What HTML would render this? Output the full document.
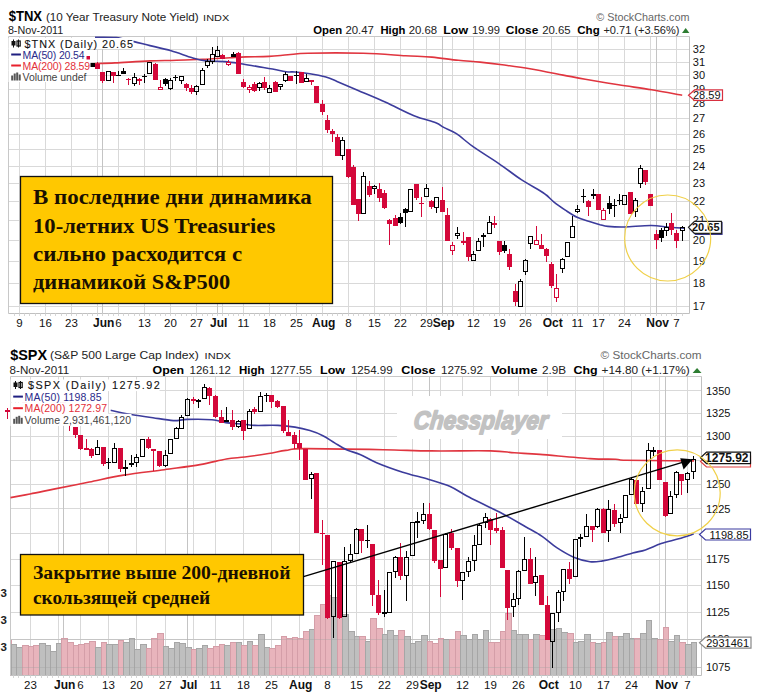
<!DOCTYPE html><html><head><meta charset="utf-8"><style>html,body{margin:0;padding:0;background:#fff;width:758px;height:700px;overflow:hidden}svg{display:block}</style></head><body>
<svg width="758" height="700" viewBox="0 0 758 700">
<rect width="758" height="700" fill="#fff"/>
<line x1="8.5" y1="306.5" x2="689.5" y2="306.5" stroke="#d9d9d9" stroke-width="1"/>
<line x1="8.5" y1="283.5" x2="689.5" y2="283.5" stroke="#d9d9d9" stroke-width="1"/>
<line x1="8.5" y1="261.5" x2="689.5" y2="261.5" stroke="#d9d9d9" stroke-width="1"/>
<line x1="8.5" y1="240.5" x2="689.5" y2="240.5" stroke="#d9d9d9" stroke-width="1"/>
<line x1="8.5" y1="220.5" x2="689.5" y2="220.5" stroke="#d9d9d9" stroke-width="1"/>
<line x1="8.5" y1="201.5" x2="689.5" y2="201.5" stroke="#d9d9d9" stroke-width="1"/>
<line x1="8.5" y1="183.5" x2="689.5" y2="183.5" stroke="#d9d9d9" stroke-width="1"/>
<line x1="8.5" y1="166.5" x2="689.5" y2="166.5" stroke="#d9d9d9" stroke-width="1"/>
<line x1="8.5" y1="149.5" x2="689.5" y2="149.5" stroke="#d9d9d9" stroke-width="1"/>
<line x1="8.5" y1="134.5" x2="689.5" y2="134.5" stroke="#d9d9d9" stroke-width="1"/>
<line x1="8.5" y1="118.5" x2="689.5" y2="118.5" stroke="#d9d9d9" stroke-width="1"/>
<line x1="8.5" y1="103.5" x2="689.5" y2="103.5" stroke="#d9d9d9" stroke-width="1"/>
<line x1="8.5" y1="89.5" x2="689.5" y2="89.5" stroke="#d9d9d9" stroke-width="1"/>
<line x1="8.5" y1="75.5" x2="689.5" y2="75.5" stroke="#d9d9d9" stroke-width="1"/>
<line x1="8.5" y1="62.5" x2="689.5" y2="62.5" stroke="#d9d9d9" stroke-width="1"/>
<line x1="8.5" y1="49.5" x2="689.5" y2="49.5" stroke="#d9d9d9" stroke-width="1"/>
<line x1="19.5" y1="36.5" x2="19.5" y2="313.5" stroke="#d9d9d9" stroke-width="1"/>
<line x1="45.5" y1="36.5" x2="45.5" y2="313.5" stroke="#d9d9d9" stroke-width="1"/>
<line x1="71.5" y1="36.5" x2="71.5" y2="313.5" stroke="#d9d9d9" stroke-width="1"/>
<line x1="97.5" y1="36.5" x2="97.5" y2="313.5" stroke="#d9d9d9" stroke-width="1"/>
<line x1="102.5" y1="36.5" x2="102.5" y2="313.5" stroke="#c4c4c4" stroke-width="1"/>
<line x1="118.5" y1="36.5" x2="118.5" y2="313.5" stroke="#d9d9d9" stroke-width="1"/>
<line x1="144.5" y1="36.5" x2="144.5" y2="313.5" stroke="#d9d9d9" stroke-width="1"/>
<line x1="170.5" y1="36.5" x2="170.5" y2="313.5" stroke="#d9d9d9" stroke-width="1"/>
<line x1="196.5" y1="36.5" x2="196.5" y2="313.5" stroke="#d9d9d9" stroke-width="1"/>
<line x1="217.5" y1="36.5" x2="217.5" y2="313.5" stroke="#c4c4c4" stroke-width="1"/>
<line x1="222.5" y1="36.5" x2="222.5" y2="313.5" stroke="#d9d9d9" stroke-width="1"/>
<line x1="243.5" y1="36.5" x2="243.5" y2="313.5" stroke="#d9d9d9" stroke-width="1"/>
<line x1="269.5" y1="36.5" x2="269.5" y2="313.5" stroke="#d9d9d9" stroke-width="1"/>
<line x1="296.5" y1="36.5" x2="296.5" y2="313.5" stroke="#d9d9d9" stroke-width="1"/>
<line x1="322.5" y1="36.5" x2="322.5" y2="313.5" stroke="#c4c4c4" stroke-width="1"/>
<line x1="322.5" y1="36.5" x2="322.5" y2="313.5" stroke="#d9d9d9" stroke-width="1"/>
<line x1="348.5" y1="36.5" x2="348.5" y2="313.5" stroke="#d9d9d9" stroke-width="1"/>
<line x1="374.5" y1="36.5" x2="374.5" y2="313.5" stroke="#d9d9d9" stroke-width="1"/>
<line x1="400.5" y1="36.5" x2="400.5" y2="313.5" stroke="#d9d9d9" stroke-width="1"/>
<line x1="426.5" y1="36.5" x2="426.5" y2="313.5" stroke="#d9d9d9" stroke-width="1"/>
<line x1="442.5" y1="36.5" x2="442.5" y2="313.5" stroke="#c4c4c4" stroke-width="1"/>
<line x1="452.5" y1="36.5" x2="452.5" y2="313.5" stroke="#d9d9d9" stroke-width="1"/>
<line x1="473.5" y1="36.5" x2="473.5" y2="313.5" stroke="#d9d9d9" stroke-width="1"/>
<line x1="499.5" y1="36.5" x2="499.5" y2="313.5" stroke="#d9d9d9" stroke-width="1"/>
<line x1="525.5" y1="36.5" x2="525.5" y2="313.5" stroke="#d9d9d9" stroke-width="1"/>
<line x1="551.5" y1="36.5" x2="551.5" y2="313.5" stroke="#c4c4c4" stroke-width="1"/>
<line x1="551.5" y1="36.5" x2="551.5" y2="313.5" stroke="#d9d9d9" stroke-width="1"/>
<line x1="577.5" y1="36.5" x2="577.5" y2="313.5" stroke="#d9d9d9" stroke-width="1"/>
<line x1="598.5" y1="36.5" x2="598.5" y2="313.5" stroke="#d9d9d9" stroke-width="1"/>
<line x1="624.5" y1="36.5" x2="624.5" y2="313.5" stroke="#d9d9d9" stroke-width="1"/>
<line x1="650.5" y1="36.5" x2="650.5" y2="313.5" stroke="#d9d9d9" stroke-width="1"/>
<line x1="656.5" y1="36.5" x2="656.5" y2="313.5" stroke="#c4c4c4" stroke-width="1"/>
<line x1="676.5" y1="36.5" x2="676.5" y2="313.5" stroke="#d9d9d9" stroke-width="1"/>
<path d="M8.5 313.5V36.5H689.5" fill="none" stroke="#c8c8c8" stroke-width="1"/>
<path d="M689.5 36.5V313.5H8.5" fill="none" stroke="#c0c0c0" stroke-width="1"/>
<path d="M14.5 313.5v2.5M19.5 313.5v2.5M24.5 313.5v2.5M29.5 313.5v2.5M35.5 313.5v2.5M40.5 313.5v2.5M45.5 313.5v2.5M50.5 313.5v2.5M55.5 313.5v2.5M61.5 313.5v2.5M66.5 313.5v2.5M71.5 313.5v2.5M76.5 313.5v2.5M82.5 313.5v2.5M87.5 313.5v2.5M92.5 313.5v2.5M97.5 313.5v2.5M102.5 313.5v2.5M108.5 313.5v2.5M113.5 313.5v2.5M118.5 313.5v2.5M123.5 313.5v2.5M128.5 313.5v2.5M134.5 313.5v2.5M139.5 313.5v2.5M144.5 313.5v2.5M149.5 313.5v2.5M155.5 313.5v2.5M160.5 313.5v2.5M165.5 313.5v2.5M170.5 313.5v2.5M175.5 313.5v2.5M181.5 313.5v2.5M186.5 313.5v2.5M191.5 313.5v2.5M196.5 313.5v2.5M202.5 313.5v2.5M207.5 313.5v2.5M212.5 313.5v2.5M217.5 313.5v2.5M222.5 313.5v2.5M228.5 313.5v2.5M233.5 313.5v2.5M238.5 313.5v2.5M243.5 313.5v2.5M249.5 313.5v2.5M254.5 313.5v2.5M259.5 313.5v2.5M264.5 313.5v2.5M269.5 313.5v2.5M275.5 313.5v2.5M280.5 313.5v2.5M285.5 313.5v2.5M290.5 313.5v2.5M296.5 313.5v2.5M301.5 313.5v2.5M306.5 313.5v2.5M311.5 313.5v2.5M316.5 313.5v2.5M322.5 313.5v2.5M327.5 313.5v2.5M332.5 313.5v2.5M337.5 313.5v2.5M342.5 313.5v2.5M348.5 313.5v2.5M353.5 313.5v2.5M358.5 313.5v2.5M363.5 313.5v2.5M369.5 313.5v2.5M374.5 313.5v2.5M379.5 313.5v2.5M384.5 313.5v2.5M389.5 313.5v2.5M395.5 313.5v2.5M400.5 313.5v2.5M405.5 313.5v2.5M410.5 313.5v2.5M416.5 313.5v2.5M421.5 313.5v2.5M426.5 313.5v2.5M431.5 313.5v2.5M436.5 313.5v2.5M442.5 313.5v2.5M447.5 313.5v2.5M452.5 313.5v2.5M457.5 313.5v2.5M463.5 313.5v2.5M468.5 313.5v2.5M473.5 313.5v2.5M478.5 313.5v2.5M483.5 313.5v2.5M489.5 313.5v2.5M494.5 313.5v2.5M499.5 313.5v2.5M504.5 313.5v2.5M509.5 313.5v2.5M515.5 313.5v2.5M520.5 313.5v2.5M525.5 313.5v2.5M530.5 313.5v2.5M536.5 313.5v2.5M541.5 313.5v2.5M546.5 313.5v2.5M551.5 313.5v2.5M556.5 313.5v2.5M562.5 313.5v2.5M567.5 313.5v2.5M572.5 313.5v2.5M577.5 313.5v2.5M583.5 313.5v2.5M588.5 313.5v2.5M593.5 313.5v2.5M598.5 313.5v2.5M603.5 313.5v2.5M609.5 313.5v2.5M614.5 313.5v2.5M619.5 313.5v2.5M624.5 313.5v2.5M630.5 313.5v2.5M635.5 313.5v2.5M640.5 313.5v2.5M645.5 313.5v2.5M650.5 313.5v2.5M656.5 313.5v2.5M661.5 313.5v2.5M666.5 313.5v2.5M671.5 313.5v2.5M676.5 313.5v2.5M682.5 313.5v2.5" stroke="#d6d6d6" stroke-width="1"/>
<path d="M91.0 63.8 C95.0 63.6 105.2 63.4 115.0 62.9 C124.8 62.4 139.8 61.3 150.0 60.9 C160.2 60.5 167.6 60.6 176.4 60.3 C185.2 60.0 193.9 59.7 202.8 59.3 C211.7 58.9 222.8 58.1 230.0 57.7 C237.2 57.3 239.5 57.1 246.0 56.9 C252.5 56.7 262.0 56.8 269.0 56.4 C276.0 56.0 281.5 55.3 288.0 54.8 C294.5 54.3 295.3 53.5 307.9 53.2 C320.4 52.9 347.0 52.8 363.3 53.2 C379.6 53.6 394.1 55.1 405.5 55.8 C416.9 56.4 423.1 56.4 431.9 57.1 C440.7 57.9 450.3 59.5 458.3 60.3 C466.3 61.1 472.7 61.4 480.0 62.1 C487.3 62.9 493.9 63.7 502.2 64.8 C510.5 65.9 519.8 67.0 529.9 68.7 C540.0 70.4 553.9 73.3 563.1 75.1 C572.3 76.8 576.1 77.6 585.3 79.2 C594.5 80.8 607.4 83.0 618.5 84.8 C629.6 86.6 641.1 88.0 651.7 89.8 C662.3 91.5 677.1 94.4 682.2 95.3" fill="none" stroke="#e0353f" stroke-width="1.6" stroke-linejoin="round"/>
<path d="M95.0 37.2 C98.5 37.3 109.5 36.9 116.0 37.6 C122.5 38.3 128.3 40.3 134.0 41.6 C139.7 42.9 143.8 44.1 150.0 45.6 C156.2 47.1 164.1 48.8 171.1 50.8 C178.1 52.8 186.4 56.0 192.2 57.7 C198.0 59.4 200.4 60.2 205.9 60.9 C211.4 61.5 219.2 61.1 225.0 61.6 C230.8 62.1 235.5 62.9 240.8 63.7 C246.1 64.5 251.4 65.5 256.7 66.4 C262.0 67.3 267.6 68.1 272.5 69.0 C277.4 69.9 282.4 71.2 286.2 71.7 C289.9 72.2 291.1 71.7 295.0 72.0 C298.9 72.3 304.8 72.9 309.9 73.7 C315.0 74.5 321.4 75.8 325.9 77.1 C330.4 78.4 331.8 79.2 337.0 81.4 C342.2 83.6 348.9 86.5 357.0 90.0 C365.1 93.5 376.2 98.0 385.7 102.3 C395.2 106.6 405.6 112.3 414.0 115.7 C422.4 119.1 430.9 120.8 435.8 122.7 C440.8 124.7 440.3 125.6 443.7 127.4 C447.1 129.2 451.4 130.4 456.4 133.7 C461.4 137.0 466.7 142.2 473.8 147.2 C480.9 152.2 491.3 158.4 499.2 163.8 C507.1 169.2 514.5 175.2 521.3 179.7 C528.1 184.2 535.8 188.1 540.0 190.7 C544.2 193.2 543.9 193.1 546.3 195.0 C548.7 196.9 551.1 199.8 554.3 202.4 C557.5 205.0 561.9 207.9 565.7 210.4 C569.5 212.9 573.3 215.5 577.1 217.3 C580.9 219.1 584.8 220.1 588.6 221.3 C592.4 222.5 596.8 223.8 600.0 224.7 C603.2 225.5 603.7 226.0 607.9 226.4 C612.1 226.8 617.8 227.2 625.0 227.0 C632.2 226.8 643.9 225.4 651.3 225.5 C658.7 225.6 663.7 226.9 669.3 227.3 C674.9 227.7 682.1 228.0 684.7 228.1" fill="none" stroke="#3c3c9c" stroke-width="1.6" stroke-linejoin="round"/>
<rect x="85.0" y="56" width="5" height="5" fill="#d4083a"/>
<rect x="90.0" y="63" width="5" height="4" fill="#000"/>
<rect x="97.0" y="62" width="1" height="2" fill="#d4083a"/>
<rect x="95.0" y="64" width="5" height="5" fill="#d4083a"/>
<rect x="102.0" y="81" width="1" height="2" fill="#d4083a"/>
<rect x="100.0" y="72" width="5" height="9" fill="#d4083a"/>
<rect x="106.5" y="71.5" width="4" height="9" fill="none" stroke="#000" stroke-width="1"/>
<rect x="113.0" y="76" width="1" height="7" fill="#d4083a"/>
<rect x="111.0" y="72" width="5" height="4" fill="#d4083a"/>
<rect x="118.0" y="71" width="1" height="4" fill="#000"/>
<rect x="116.0" y="75" width="5" height="1" fill="#000"/>
<rect x="123.0" y="68" width="1" height="3" fill="#000"/>
<rect x="121.0" y="71" width="5" height="3" fill="#000"/>
<rect x="128.0" y="78" width="1" height="1" fill="#d4083a"/>
<rect x="128.0" y="80" width="1" height="5" fill="#d4083a"/>
<rect x="126.0" y="79" width="5" height="1" fill="#d4083a"/>
<rect x="134.0" y="73" width="1" height="4" fill="#000"/>
<rect x="134.0" y="84" width="1" height="2" fill="#000"/>
<rect x="132.5" y="77.5" width="4" height="6" fill="none" stroke="#000" stroke-width="1"/>
<rect x="139.0" y="78" width="1" height="1" fill="#d4083a"/>
<rect x="139.0" y="81" width="1" height="4" fill="#d4083a"/>
<rect x="137.0" y="79" width="5" height="2" fill="#d4083a"/>
<rect x="144.0" y="74" width="1" height="2" fill="#000"/>
<rect x="144.0" y="77" width="1" height="6" fill="#000"/>
<rect x="142.0" y="76" width="5" height="1" fill="#000"/>
<rect x="147.5" y="62.5" width="4" height="11" fill="none" stroke="#000" stroke-width="1"/>
<rect x="155.0" y="63" width="1" height="1" fill="#d4083a"/>
<rect x="153.0" y="64" width="5" height="16" fill="#d4083a"/>
<rect x="160.0" y="80" width="1" height="7" fill="#d4083a"/>
<rect x="158.5" y="87.5" width="4" height="2" fill="none" stroke="#d4083a" stroke-width="1"/>
<rect x="165.0" y="78" width="1" height="1" fill="#000"/>
<rect x="165.0" y="84" width="1" height="2" fill="#000"/>
<rect x="163.0" y="79" width="5" height="5" fill="#000"/>
<rect x="170.0" y="78" width="1" height="2" fill="#000"/>
<rect x="170.0" y="89" width="1" height="1" fill="#000"/>
<rect x="168.5" y="80.5" width="4" height="8" fill="none" stroke="#000" stroke-width="1"/>
<rect x="175.0" y="75" width="1" height="2" fill="#000"/>
<rect x="175.0" y="78" width="1" height="3" fill="#000"/>
<rect x="173.0" y="77" width="5" height="1" fill="#000"/>
<rect x="181.0" y="81" width="1" height="3" fill="#000"/>
<rect x="179.5" y="76.5" width="4" height="4" fill="none" stroke="#000" stroke-width="1"/>
<rect x="186.0" y="83" width="1" height="1" fill="#d4083a"/>
<rect x="186.0" y="88" width="1" height="3" fill="#d4083a"/>
<rect x="184.0" y="84" width="5" height="4" fill="#d4083a"/>
<rect x="191.0" y="85" width="1" height="3" fill="#d4083a"/>
<rect x="191.0" y="92" width="1" height="2" fill="#d4083a"/>
<rect x="189.0" y="88" width="5" height="4" fill="#d4083a"/>
<rect x="196.0" y="85" width="1" height="1" fill="#000"/>
<rect x="196.0" y="92" width="1" height="3" fill="#000"/>
<rect x="194.5" y="86.5" width="4" height="5" fill="none" stroke="#000" stroke-width="1"/>
<rect x="202.0" y="68" width="1" height="2" fill="#000"/>
<rect x="200.5" y="70.5" width="4" height="14" fill="none" stroke="#000" stroke-width="1"/>
<rect x="207.0" y="59" width="1" height="2" fill="#000"/>
<rect x="207.0" y="66" width="1" height="2" fill="#000"/>
<rect x="205.5" y="61.5" width="4" height="4" fill="none" stroke="#000" stroke-width="1"/>
<rect x="212.0" y="47" width="1" height="7" fill="#000"/>
<rect x="212.0" y="62" width="1" height="2" fill="#000"/>
<rect x="210.5" y="54.5" width="4" height="7" fill="none" stroke="#000" stroke-width="1"/>
<rect x="217.0" y="46" width="1" height="4" fill="#000"/>
<rect x="215.5" y="50.5" width="4" height="6" fill="none" stroke="#000" stroke-width="1"/>
<rect x="222.0" y="54" width="1" height="1" fill="#d4083a"/>
<rect x="220.0" y="55" width="5" height="4" fill="#d4083a"/>
<rect x="228.0" y="60" width="1" height="2" fill="#d4083a"/>
<rect x="228.0" y="65" width="1" height="1" fill="#d4083a"/>
<rect x="226.5" y="62.5" width="4" height="2" fill="none" stroke="#d4083a" stroke-width="1"/>
<rect x="233.0" y="52" width="1" height="2" fill="#000"/>
<rect x="231.0" y="54" width="5" height="3" fill="#000"/>
<rect x="238.0" y="52" width="1" height="1" fill="#d4083a"/>
<rect x="236.0" y="53" width="5" height="21" fill="#d4083a"/>
<rect x="243.0" y="79" width="1" height="3" fill="#d4083a"/>
<rect x="243.0" y="87" width="1" height="1" fill="#d4083a"/>
<rect x="241.0" y="82" width="5" height="5" fill="#d4083a"/>
<rect x="249.0" y="85" width="1" height="2" fill="#d4083a"/>
<rect x="249.0" y="90" width="1" height="3" fill="#d4083a"/>
<rect x="247.5" y="87.5" width="4" height="2" fill="none" stroke="#d4083a" stroke-width="1"/>
<rect x="254.0" y="82" width="1" height="2" fill="#d4083a"/>
<rect x="254.0" y="91" width="1" height="1" fill="#d4083a"/>
<rect x="252.0" y="84" width="5" height="7" fill="#d4083a"/>
<rect x="259.0" y="82" width="1" height="1" fill="#000"/>
<rect x="259.0" y="88" width="1" height="3" fill="#000"/>
<rect x="257.5" y="83.5" width="4" height="4" fill="none" stroke="#000" stroke-width="1"/>
<rect x="264.0" y="77" width="1" height="5" fill="#d4083a"/>
<rect x="264.0" y="88" width="1" height="2" fill="#d4083a"/>
<rect x="262.0" y="82" width="5" height="6" fill="#d4083a"/>
<rect x="269.0" y="85" width="1" height="3" fill="#000"/>
<rect x="267.5" y="88.5" width="4" height="4" fill="none" stroke="#000" stroke-width="1"/>
<rect x="275.0" y="81" width="1" height="1" fill="#d4083a"/>
<rect x="273.0" y="82" width="5" height="10" fill="#d4083a"/>
<rect x="280.0" y="87" width="1" height="3" fill="#000"/>
<rect x="278.5" y="84.5" width="4" height="2" fill="none" stroke="#000" stroke-width="1"/>
<rect x="285.0" y="72" width="1" height="2" fill="#000"/>
<rect x="285.0" y="81" width="1" height="1" fill="#000"/>
<rect x="283.5" y="74.5" width="4" height="6" fill="none" stroke="#000" stroke-width="1"/>
<rect x="288.0" y="76" width="5" height="5" fill="#d4083a"/>
<rect x="296.0" y="71" width="1" height="4" fill="#000"/>
<rect x="296.0" y="76" width="1" height="8" fill="#000"/>
<rect x="294.0" y="75" width="5" height="1" fill="#000"/>
<rect x="299.0" y="72" width="5" height="11" fill="#d4083a"/>
<rect x="306.0" y="74" width="1" height="4" fill="#000"/>
<rect x="304.5" y="78.5" width="4" height="3" fill="none" stroke="#000" stroke-width="1"/>
<rect x="311.0" y="82" width="1" height="3" fill="#d4083a"/>
<rect x="309.0" y="80" width="5" height="2" fill="#d4083a"/>
<rect x="314.0" y="86" width="5" height="17" fill="#d4083a"/>
<rect x="322.0" y="100" width="1" height="4" fill="#d4083a"/>
<rect x="322.0" y="112" width="1" height="3" fill="#d4083a"/>
<rect x="320.0" y="104" width="5" height="8" fill="#d4083a"/>
<rect x="327.0" y="115" width="1" height="5" fill="#d4083a"/>
<rect x="327.0" y="130" width="1" height="3" fill="#d4083a"/>
<rect x="325.0" y="120" width="5" height="10" fill="#d4083a"/>
<rect x="332.0" y="129" width="1" height="2" fill="#d4083a"/>
<rect x="332.0" y="134" width="1" height="8" fill="#d4083a"/>
<rect x="330.0" y="131" width="5" height="3" fill="#d4083a"/>
<rect x="337.0" y="134" width="1" height="3" fill="#d4083a"/>
<rect x="335.0" y="137" width="5" height="19" fill="#d4083a"/>
<rect x="342.0" y="137" width="1" height="3" fill="#000"/>
<rect x="342.0" y="156" width="1" height="4" fill="#000"/>
<rect x="340.5" y="140.5" width="4" height="15" fill="none" stroke="#000" stroke-width="1"/>
<rect x="348.0" y="177" width="1" height="1" fill="#d4083a"/>
<rect x="346.0" y="149" width="5" height="28" fill="#d4083a"/>
<rect x="353.0" y="165" width="1" height="2" fill="#d4083a"/>
<rect x="351.0" y="167" width="5" height="38" fill="#d4083a"/>
<rect x="358.0" y="214" width="1" height="7" fill="#d4083a"/>
<rect x="356.0" y="199" width="5" height="15" fill="#d4083a"/>
<rect x="363.0" y="172" width="1" height="4" fill="#000"/>
<rect x="361.5" y="176.5" width="4" height="37" fill="none" stroke="#000" stroke-width="1"/>
<rect x="369.0" y="181" width="1" height="5" fill="#d4083a"/>
<rect x="369.0" y="195" width="1" height="2" fill="#d4083a"/>
<rect x="367.0" y="186" width="5" height="9" fill="#d4083a"/>
<rect x="374.0" y="185" width="1" height="1" fill="#000"/>
<rect x="374.0" y="189" width="1" height="5" fill="#000"/>
<rect x="372.5" y="186.5" width="4" height="2" fill="none" stroke="#000" stroke-width="1"/>
<rect x="379.0" y="183" width="1" height="6" fill="#d4083a"/>
<rect x="379.0" y="198" width="1" height="4" fill="#d4083a"/>
<rect x="377.0" y="189" width="5" height="9" fill="#d4083a"/>
<rect x="384.0" y="190" width="1" height="3" fill="#d4083a"/>
<rect x="384.0" y="208" width="1" height="1" fill="#d4083a"/>
<rect x="382.0" y="193" width="5" height="15" fill="#d4083a"/>
<rect x="389.0" y="219" width="1" height="1" fill="#d4083a"/>
<rect x="389.0" y="224" width="1" height="21" fill="#d4083a"/>
<rect x="387.0" y="220" width="5" height="4" fill="#d4083a"/>
<rect x="395.0" y="215" width="1" height="3" fill="#d4083a"/>
<rect x="393.0" y="218" width="5" height="8" fill="#d4083a"/>
<rect x="400.0" y="213" width="1" height="4" fill="#000"/>
<rect x="400.0" y="223" width="1" height="1" fill="#000"/>
<rect x="398.0" y="217" width="5" height="6" fill="#000"/>
<rect x="405.0" y="208" width="1" height="1" fill="#000"/>
<rect x="405.0" y="213" width="1" height="14" fill="#000"/>
<rect x="403.0" y="209" width="5" height="4" fill="#000"/>
<rect x="408.5" y="189.5" width="4" height="22" fill="none" stroke="#000" stroke-width="1"/>
<rect x="416.0" y="198" width="1" height="2" fill="#d4083a"/>
<rect x="414.0" y="184" width="5" height="14" fill="#d4083a"/>
<rect x="421.0" y="197" width="1" height="6" fill="#d4083a"/>
<rect x="421.0" y="204" width="1" height="13" fill="#d4083a"/>
<rect x="419.0" y="203" width="5" height="1" fill="#d4083a"/>
<rect x="426.0" y="184" width="1" height="4" fill="#000"/>
<rect x="424.5" y="188.5" width="4" height="8" fill="none" stroke="#000" stroke-width="1"/>
<rect x="431.0" y="200" width="1" height="1" fill="#d4083a"/>
<rect x="431.0" y="207" width="1" height="2" fill="#d4083a"/>
<rect x="429.0" y="201" width="5" height="6" fill="#d4083a"/>
<rect x="436.0" y="208" width="1" height="5" fill="#000"/>
<rect x="434.5" y="197.5" width="4" height="10" fill="none" stroke="#000" stroke-width="1"/>
<rect x="442.0" y="187" width="1" height="13" fill="#d4083a"/>
<rect x="440.0" y="200" width="5" height="12" fill="#d4083a"/>
<rect x="447.0" y="208" width="1" height="7" fill="#d4083a"/>
<rect x="445.0" y="215" width="5" height="26" fill="#d4083a"/>
<rect x="452.0" y="242" width="1" height="3" fill="#d4083a"/>
<rect x="452.0" y="251" width="1" height="4" fill="#d4083a"/>
<rect x="450.5" y="245.5" width="4" height="5" fill="none" stroke="#d4083a" stroke-width="1"/>
<rect x="457.0" y="227" width="1" height="6" fill="#000"/>
<rect x="457.0" y="236" width="1" height="3" fill="#000"/>
<rect x="455.5" y="233.5" width="4" height="2" fill="none" stroke="#000" stroke-width="1"/>
<rect x="463.0" y="232" width="1" height="9" fill="#d4083a"/>
<rect x="463.0" y="243" width="1" height="2" fill="#d4083a"/>
<rect x="461.0" y="241" width="5" height="2" fill="#d4083a"/>
<rect x="468.0" y="257" width="1" height="4" fill="#d4083a"/>
<rect x="466.0" y="237" width="5" height="20" fill="#d4083a"/>
<rect x="473.0" y="251" width="1" height="3" fill="#000"/>
<rect x="471.5" y="254.5" width="4" height="6" fill="none" stroke="#000" stroke-width="1"/>
<rect x="478.0" y="238" width="1" height="3" fill="#000"/>
<rect x="476.5" y="241.5" width="4" height="9" fill="none" stroke="#000" stroke-width="1"/>
<rect x="483.0" y="233" width="1" height="2" fill="#000"/>
<rect x="483.0" y="237" width="1" height="10" fill="#000"/>
<rect x="481.0" y="235" width="5" height="2" fill="#000"/>
<rect x="489.0" y="216" width="1" height="6" fill="#000"/>
<rect x="487.5" y="222.5" width="4" height="11" fill="none" stroke="#000" stroke-width="1"/>
<rect x="494.0" y="216" width="1" height="7" fill="#d4083a"/>
<rect x="494.0" y="225" width="1" height="3" fill="#d4083a"/>
<rect x="492.0" y="223" width="5" height="2" fill="#d4083a"/>
<rect x="499.0" y="252" width="1" height="3" fill="#d4083a"/>
<rect x="497.0" y="241" width="5" height="11" fill="#d4083a"/>
<rect x="504.0" y="241" width="1" height="4" fill="#000"/>
<rect x="504.0" y="251" width="1" height="2" fill="#000"/>
<rect x="502.0" y="245" width="5" height="6" fill="#000"/>
<rect x="509.0" y="249" width="1" height="5" fill="#d4083a"/>
<rect x="509.0" y="267" width="1" height="3" fill="#d4083a"/>
<rect x="507.0" y="254" width="5" height="13" fill="#d4083a"/>
<rect x="515.0" y="284" width="1" height="7" fill="#d4083a"/>
<rect x="515.0" y="302" width="1" height="4" fill="#d4083a"/>
<rect x="513.0" y="291" width="5" height="11" fill="#d4083a"/>
<rect x="520.0" y="279" width="1" height="2" fill="#000"/>
<rect x="518.5" y="281.5" width="4" height="25" fill="none" stroke="#000" stroke-width="1"/>
<rect x="525.0" y="259" width="1" height="1" fill="#000"/>
<rect x="525.0" y="272" width="1" height="3" fill="#000"/>
<rect x="523.5" y="260.5" width="4" height="11" fill="none" stroke="#000" stroke-width="1"/>
<rect x="530.0" y="244" width="1" height="5" fill="#000"/>
<rect x="528.5" y="236.5" width="4" height="7" fill="none" stroke="#000" stroke-width="1"/>
<rect x="536.0" y="226" width="1" height="14" fill="#d4083a"/>
<rect x="534.5" y="240.5" width="4" height="4" fill="none" stroke="#d4083a" stroke-width="1"/>
<rect x="541.0" y="234" width="1" height="11" fill="#d4083a"/>
<rect x="539.0" y="245" width="5" height="4" fill="#d4083a"/>
<rect x="546.0" y="248" width="1" height="1" fill="#d4083a"/>
<rect x="546.0" y="256" width="1" height="6" fill="#d4083a"/>
<rect x="544.0" y="249" width="5" height="7" fill="#d4083a"/>
<rect x="551.0" y="262" width="1" height="2" fill="#d4083a"/>
<rect x="551.0" y="286" width="1" height="2" fill="#d4083a"/>
<rect x="549.0" y="264" width="5" height="22" fill="#d4083a"/>
<rect x="556.0" y="274" width="1" height="14" fill="#d4083a"/>
<rect x="556.0" y="298" width="1" height="4" fill="#d4083a"/>
<rect x="554.5" y="288.5" width="4" height="9" fill="none" stroke="#d4083a" stroke-width="1"/>
<rect x="562.0" y="258" width="1" height="1" fill="#000"/>
<rect x="562.0" y="269" width="1" height="4" fill="#000"/>
<rect x="560.5" y="259.5" width="4" height="9" fill="none" stroke="#000" stroke-width="1"/>
<rect x="565.5" y="242.5" width="4" height="14" fill="none" stroke="#000" stroke-width="1"/>
<rect x="572.0" y="216" width="1" height="10" fill="#000"/>
<rect x="570.5" y="226.5" width="4" height="11" fill="none" stroke="#000" stroke-width="1"/>
<rect x="577.0" y="205" width="1" height="4" fill="#000"/>
<rect x="577.0" y="212" width="1" height="1" fill="#000"/>
<rect x="575.5" y="209.5" width="4" height="2" fill="none" stroke="#000" stroke-width="1"/>
<rect x="583.0" y="189" width="1" height="7" fill="#000"/>
<rect x="583.0" y="197" width="1" height="6" fill="#000"/>
<rect x="581.0" y="196" width="5" height="1" fill="#000"/>
<rect x="588.0" y="200" width="1" height="1" fill="#d4083a"/>
<rect x="588.0" y="207" width="1" height="9" fill="#d4083a"/>
<rect x="586.0" y="201" width="5" height="6" fill="#d4083a"/>
<rect x="593.0" y="189" width="1" height="5" fill="#000"/>
<rect x="593.0" y="196" width="1" height="3" fill="#000"/>
<rect x="591.0" y="194" width="5" height="2" fill="#000"/>
<rect x="596.0" y="194" width="5" height="16" fill="#d4083a"/>
<rect x="603.0" y="208" width="1" height="2" fill="#d4083a"/>
<rect x="601.5" y="210.5" width="4" height="9" fill="none" stroke="#d4083a" stroke-width="1"/>
<rect x="609.0" y="196" width="1" height="7" fill="#000"/>
<rect x="609.0" y="209" width="1" height="5" fill="#000"/>
<rect x="607.0" y="203" width="5" height="6" fill="#000"/>
<rect x="614.0" y="199" width="1" height="6" fill="#000"/>
<rect x="614.0" y="206" width="1" height="11" fill="#000"/>
<rect x="612.0" y="205" width="5" height="1" fill="#000"/>
<rect x="619.0" y="194" width="1" height="6" fill="#000"/>
<rect x="619.0" y="201" width="1" height="4" fill="#000"/>
<rect x="617.0" y="200" width="5" height="1" fill="#000"/>
<rect x="622.5" y="195.5" width="4" height="9" fill="none" stroke="#000" stroke-width="1"/>
<rect x="628.0" y="192" width="5" height="22" fill="#d4083a"/>
<rect x="635.0" y="198" width="1" height="2" fill="#000"/>
<rect x="635.0" y="212" width="1" height="5" fill="#000"/>
<rect x="633.5" y="200.5" width="4" height="11" fill="none" stroke="#000" stroke-width="1"/>
<rect x="640.0" y="165" width="1" height="3" fill="#000"/>
<rect x="640.0" y="184" width="1" height="4" fill="#000"/>
<rect x="638.5" y="168.5" width="4" height="15" fill="none" stroke="#000" stroke-width="1"/>
<rect x="645.0" y="182" width="1" height="3" fill="#d4083a"/>
<rect x="643.0" y="170" width="5" height="12" fill="#d4083a"/>
<rect x="648.0" y="194" width="5" height="12" fill="#d4083a"/>
<rect x="656.0" y="230" width="1" height="4" fill="#d4083a"/>
<rect x="656.0" y="240" width="1" height="9" fill="#d4083a"/>
<rect x="654.0" y="234" width="5" height="6" fill="#d4083a"/>
<rect x="661.0" y="228" width="1" height="2" fill="#000"/>
<rect x="661.0" y="238" width="1" height="4" fill="#000"/>
<rect x="659.0" y="230" width="5" height="8" fill="#000"/>
<rect x="666.0" y="223" width="1" height="4" fill="#000"/>
<rect x="666.0" y="231" width="1" height="5" fill="#000"/>
<rect x="664.5" y="227.5" width="4" height="3" fill="none" stroke="#000" stroke-width="1"/>
<rect x="671.0" y="213" width="1" height="10" fill="#d4083a"/>
<rect x="671.0" y="230" width="1" height="5" fill="#d4083a"/>
<rect x="669.0" y="223" width="5" height="7" fill="#d4083a"/>
<rect x="676.0" y="230" width="1" height="3" fill="#d4083a"/>
<rect x="676.0" y="241" width="1" height="7" fill="#d4083a"/>
<rect x="674.0" y="233" width="5" height="8" fill="#d4083a"/>
<rect x="682.0" y="226" width="1" height="1" fill="#000"/>
<rect x="682.0" y="231" width="1" height="10" fill="#000"/>
<rect x="680.5" y="227.5" width="4" height="3" fill="none" stroke="#000" stroke-width="1"/>
<line x1="10.5" y1="667.5" x2="701.5" y2="667.5" stroke="#d9d9d9" stroke-width="1"/>
<line x1="10.5" y1="639.5" x2="701.5" y2="639.5" stroke="#d9d9d9" stroke-width="1"/>
<line x1="10.5" y1="612.5" x2="701.5" y2="612.5" stroke="#d9d9d9" stroke-width="1"/>
<line x1="10.5" y1="585.5" x2="701.5" y2="585.5" stroke="#d9d9d9" stroke-width="1"/>
<line x1="10.5" y1="559.5" x2="701.5" y2="559.5" stroke="#d9d9d9" stroke-width="1"/>
<line x1="10.5" y1="533.5" x2="701.5" y2="533.5" stroke="#d9d9d9" stroke-width="1"/>
<line x1="10.5" y1="508.5" x2="701.5" y2="508.5" stroke="#d9d9d9" stroke-width="1"/>
<line x1="10.5" y1="484.5" x2="701.5" y2="484.5" stroke="#d9d9d9" stroke-width="1"/>
<line x1="10.5" y1="460.5" x2="701.5" y2="460.5" stroke="#d9d9d9" stroke-width="1"/>
<line x1="10.5" y1="436.5" x2="701.5" y2="436.5" stroke="#d9d9d9" stroke-width="1"/>
<line x1="10.5" y1="413.5" x2="701.5" y2="413.5" stroke="#d9d9d9" stroke-width="1"/>
<line x1="10.5" y1="390.5" x2="701.5" y2="390.5" stroke="#d9d9d9" stroke-width="1"/>
<line x1="30.5" y1="376.5" x2="30.5" y2="675.5" stroke="#d9d9d9" stroke-width="1"/>
<line x1="58.5" y1="376.5" x2="58.5" y2="675.5" stroke="#d9d9d9" stroke-width="1"/>
<line x1="63.5" y1="376.5" x2="63.5" y2="675.5" stroke="#c4c4c4" stroke-width="1"/>
<line x1="80.5" y1="376.5" x2="80.5" y2="675.5" stroke="#d9d9d9" stroke-width="1"/>
<line x1="108.5" y1="376.5" x2="108.5" y2="675.5" stroke="#d9d9d9" stroke-width="1"/>
<line x1="136.5" y1="376.5" x2="136.5" y2="675.5" stroke="#d9d9d9" stroke-width="1"/>
<line x1="165.5" y1="376.5" x2="165.5" y2="675.5" stroke="#d9d9d9" stroke-width="1"/>
<line x1="187.5" y1="376.5" x2="187.5" y2="675.5" stroke="#c4c4c4" stroke-width="1"/>
<line x1="193.5" y1="376.5" x2="193.5" y2="675.5" stroke="#d9d9d9" stroke-width="1"/>
<line x1="215.5" y1="376.5" x2="215.5" y2="675.5" stroke="#d9d9d9" stroke-width="1"/>
<line x1="243.5" y1="376.5" x2="243.5" y2="675.5" stroke="#d9d9d9" stroke-width="1"/>
<line x1="271.5" y1="376.5" x2="271.5" y2="675.5" stroke="#d9d9d9" stroke-width="1"/>
<line x1="299.5" y1="376.5" x2="299.5" y2="675.5" stroke="#c4c4c4" stroke-width="1"/>
<line x1="299.5" y1="376.5" x2="299.5" y2="675.5" stroke="#d9d9d9" stroke-width="1"/>
<line x1="327.5" y1="376.5" x2="327.5" y2="675.5" stroke="#d9d9d9" stroke-width="1"/>
<line x1="356.5" y1="376.5" x2="356.5" y2="675.5" stroke="#d9d9d9" stroke-width="1"/>
<line x1="384.5" y1="376.5" x2="384.5" y2="675.5" stroke="#d9d9d9" stroke-width="1"/>
<line x1="412.5" y1="376.5" x2="412.5" y2="675.5" stroke="#d9d9d9" stroke-width="1"/>
<line x1="429.5" y1="376.5" x2="429.5" y2="675.5" stroke="#c4c4c4" stroke-width="1"/>
<line x1="440.5" y1="376.5" x2="440.5" y2="675.5" stroke="#d9d9d9" stroke-width="1"/>
<line x1="462.5" y1="376.5" x2="462.5" y2="675.5" stroke="#d9d9d9" stroke-width="1"/>
<line x1="490.5" y1="376.5" x2="490.5" y2="675.5" stroke="#d9d9d9" stroke-width="1"/>
<line x1="518.5" y1="376.5" x2="518.5" y2="675.5" stroke="#d9d9d9" stroke-width="1"/>
<line x1="547.5" y1="376.5" x2="547.5" y2="675.5" stroke="#c4c4c4" stroke-width="1"/>
<line x1="547.5" y1="376.5" x2="547.5" y2="675.5" stroke="#d9d9d9" stroke-width="1"/>
<line x1="575.5" y1="376.5" x2="575.5" y2="675.5" stroke="#d9d9d9" stroke-width="1"/>
<line x1="603.5" y1="376.5" x2="603.5" y2="675.5" stroke="#d9d9d9" stroke-width="1"/>
<line x1="631.5" y1="376.5" x2="631.5" y2="675.5" stroke="#d9d9d9" stroke-width="1"/>
<line x1="659.5" y1="376.5" x2="659.5" y2="675.5" stroke="#d9d9d9" stroke-width="1"/>
<line x1="665.5" y1="376.5" x2="665.5" y2="675.5" stroke="#c4c4c4" stroke-width="1"/>
<line x1="687.5" y1="376.5" x2="687.5" y2="675.5" stroke="#d9d9d9" stroke-width="1"/>
<rect x="10.5" y="640.5" width="1.0" height="35.0" fill="#e8b4bc" stroke="#d49ea8" stroke-width="1"/>
<rect x="11.5" y="644.5" width="5.0" height="31.0" fill="#bfbfbf" stroke="#a6a6a6" stroke-width="1"/>
<rect x="16.5" y="647.5" width="6.0" height="28.0" fill="#bfbfbf" stroke="#a6a6a6" stroke-width="1"/>
<rect x="22.5" y="645.5" width="6.0" height="30.0" fill="#e8b4bc" stroke="#d49ea8" stroke-width="1"/>
<rect x="28.5" y="646.5" width="5.0" height="29.0" fill="#e8b4bc" stroke="#d49ea8" stroke-width="1"/>
<rect x="33.5" y="645.5" width="6.0" height="30.0" fill="#e8b4bc" stroke="#d49ea8" stroke-width="1"/>
<rect x="39.5" y="643.5" width="6.0" height="32.0" fill="#bfbfbf" stroke="#a6a6a6" stroke-width="1"/>
<rect x="45.5" y="645.5" width="5.0" height="30.0" fill="#bfbfbf" stroke="#a6a6a6" stroke-width="1"/>
<rect x="50.5" y="651.5" width="6.0" height="24.0" fill="#bfbfbf" stroke="#a6a6a6" stroke-width="1"/>
<rect x="56.5" y="643.5" width="5.0" height="32.0" fill="#bfbfbf" stroke="#a6a6a6" stroke-width="1"/>
<rect x="61.5" y="638.5" width="6.0" height="37.0" fill="#e8b4bc" stroke="#d49ea8" stroke-width="1"/>
<rect x="67.5" y="642.5" width="6.0" height="33.0" fill="#e8b4bc" stroke="#d49ea8" stroke-width="1"/>
<rect x="73.5" y="645.5" width="5.0" height="30.0" fill="#e8b4bc" stroke="#d49ea8" stroke-width="1"/>
<rect x="78.5" y="644.5" width="6.0" height="31.0" fill="#e8b4bc" stroke="#d49ea8" stroke-width="1"/>
<rect x="84.5" y="643.5" width="5.0" height="32.0" fill="#e8b4bc" stroke="#d49ea8" stroke-width="1"/>
<rect x="89.5" y="641.5" width="6.0" height="34.0" fill="#e8b4bc" stroke="#d49ea8" stroke-width="1"/>
<rect x="95.5" y="647.5" width="6.0" height="28.0" fill="#bfbfbf" stroke="#a6a6a6" stroke-width="1"/>
<rect x="101.5" y="642.5" width="5.0" height="33.0" fill="#e8b4bc" stroke="#d49ea8" stroke-width="1"/>
<rect x="106.5" y="644.5" width="6.0" height="31.0" fill="#bfbfbf" stroke="#a6a6a6" stroke-width="1"/>
<rect x="112.5" y="644.5" width="6.0" height="31.0" fill="#bfbfbf" stroke="#a6a6a6" stroke-width="1"/>
<rect x="118.5" y="640.5" width="5.0" height="35.0" fill="#e8b4bc" stroke="#d49ea8" stroke-width="1"/>
<rect x="123.5" y="642.5" width="6.0" height="33.0" fill="#bfbfbf" stroke="#a6a6a6" stroke-width="1"/>
<rect x="129.5" y="638.5" width="5.0" height="37.0" fill="#bfbfbf" stroke="#a6a6a6" stroke-width="1"/>
<rect x="134.5" y="649.5" width="6.0" height="26.0" fill="#bfbfbf" stroke="#a6a6a6" stroke-width="1"/>
<rect x="140.5" y="644.5" width="6.0" height="31.0" fill="#bfbfbf" stroke="#a6a6a6" stroke-width="1"/>
<rect x="146.5" y="648.5" width="5.0" height="27.0" fill="#e8b4bc" stroke="#d49ea8" stroke-width="1"/>
<rect x="151.5" y="638.5" width="6.0" height="37.0" fill="#e8b4bc" stroke="#d49ea8" stroke-width="1"/>
<rect x="157.5" y="633.5" width="6.0" height="42.0" fill="#e8b4bc" stroke="#d49ea8" stroke-width="1"/>
<rect x="163.5" y="646.5" width="5.0" height="29.0" fill="#bfbfbf" stroke="#a6a6a6" stroke-width="1"/>
<rect x="168.5" y="648.5" width="6.0" height="27.0" fill="#bfbfbf" stroke="#a6a6a6" stroke-width="1"/>
<rect x="174.5" y="642.5" width="5.0" height="33.0" fill="#bfbfbf" stroke="#a6a6a6" stroke-width="1"/>
<rect x="179.5" y="643.5" width="6.0" height="32.0" fill="#bfbfbf" stroke="#a6a6a6" stroke-width="1"/>
<rect x="185.5" y="647.5" width="6.0" height="28.0" fill="#bfbfbf" stroke="#a6a6a6" stroke-width="1"/>
<rect x="191.5" y="649.5" width="5.0" height="26.0" fill="#e8b4bc" stroke="#d49ea8" stroke-width="1"/>
<rect x="196.5" y="648.5" width="6.0" height="27.0" fill="#bfbfbf" stroke="#a6a6a6" stroke-width="1"/>
<rect x="202.5" y="645.5" width="5.0" height="30.0" fill="#bfbfbf" stroke="#a6a6a6" stroke-width="1"/>
<rect x="207.5" y="648.5" width="6.0" height="27.0" fill="#e8b4bc" stroke="#d49ea8" stroke-width="1"/>
<rect x="213.5" y="646.5" width="6.0" height="29.0" fill="#e8b4bc" stroke="#d49ea8" stroke-width="1"/>
<rect x="219.5" y="644.5" width="5.0" height="31.0" fill="#e8b4bc" stroke="#d49ea8" stroke-width="1"/>
<rect x="224.5" y="645.5" width="6.0" height="30.0" fill="#bfbfbf" stroke="#a6a6a6" stroke-width="1"/>
<rect x="230.5" y="642.5" width="6.0" height="33.0" fill="#e8b4bc" stroke="#d49ea8" stroke-width="1"/>
<rect x="236.5" y="642.5" width="5.0" height="33.0" fill="#bfbfbf" stroke="#a6a6a6" stroke-width="1"/>
<rect x="241.5" y="645.5" width="6.0" height="30.0" fill="#e8b4bc" stroke="#d49ea8" stroke-width="1"/>
<rect x="247.5" y="641.5" width="5.0" height="34.0" fill="#bfbfbf" stroke="#a6a6a6" stroke-width="1"/>
<rect x="252.5" y="645.5" width="6.0" height="30.0" fill="#e8b4bc" stroke="#d49ea8" stroke-width="1"/>
<rect x="258.5" y="634.5" width="6.0" height="41.0" fill="#bfbfbf" stroke="#a6a6a6" stroke-width="1"/>
<rect x="264.5" y="647.5" width="5.0" height="28.0" fill="#bfbfbf" stroke="#a6a6a6" stroke-width="1"/>
<rect x="269.5" y="648.5" width="6.0" height="27.0" fill="#e8b4bc" stroke="#d49ea8" stroke-width="1"/>
<rect x="275.5" y="645.5" width="6.0" height="30.0" fill="#e8b4bc" stroke="#d49ea8" stroke-width="1"/>
<rect x="281.5" y="636.5" width="5.0" height="39.0" fill="#e8b4bc" stroke="#d49ea8" stroke-width="1"/>
<rect x="286.5" y="638.5" width="6.0" height="37.0" fill="#e8b4bc" stroke="#d49ea8" stroke-width="1"/>
<rect x="292.5" y="637.5" width="5.0" height="38.0" fill="#e8b4bc" stroke="#d49ea8" stroke-width="1"/>
<rect x="297.5" y="638.5" width="6.0" height="37.0" fill="#e8b4bc" stroke="#d49ea8" stroke-width="1"/>
<rect x="303.5" y="631.5" width="6.0" height="44.0" fill="#e8b4bc" stroke="#d49ea8" stroke-width="1"/>
<rect x="309.5" y="629.5" width="5.0" height="46.0" fill="#bfbfbf" stroke="#a6a6a6" stroke-width="1"/>
<rect x="314.5" y="615.5" width="6.0" height="60.0" fill="#e8b4bc" stroke="#d49ea8" stroke-width="1"/>
<rect x="320.5" y="604.5" width="5.0" height="71.0" fill="#e8b4bc" stroke="#d49ea8" stroke-width="1"/>
<rect x="325.5" y="595.5" width="6.0" height="80.0" fill="#e8b4bc" stroke="#d49ea8" stroke-width="1"/>
<rect x="331.5" y="597.5" width="6.0" height="78.0" fill="#bfbfbf" stroke="#a6a6a6" stroke-width="1"/>
<rect x="337.5" y="612.5" width="5.0" height="63.0" fill="#e8b4bc" stroke="#d49ea8" stroke-width="1"/>
<rect x="342.5" y="614.5" width="6.0" height="61.0" fill="#bfbfbf" stroke="#a6a6a6" stroke-width="1"/>
<rect x="348.5" y="631.5" width="6.0" height="44.0" fill="#bfbfbf" stroke="#a6a6a6" stroke-width="1"/>
<rect x="354.5" y="636.5" width="5.0" height="39.0" fill="#bfbfbf" stroke="#a6a6a6" stroke-width="1"/>
<rect x="359.5" y="636.5" width="6.0" height="39.0" fill="#e8b4bc" stroke="#d49ea8" stroke-width="1"/>
<rect x="365.5" y="641.5" width="5.0" height="34.0" fill="#bfbfbf" stroke="#a6a6a6" stroke-width="1"/>
<rect x="370.5" y="618.5" width="6.0" height="57.0" fill="#e8b4bc" stroke="#d49ea8" stroke-width="1"/>
<rect x="376.5" y="628.5" width="6.0" height="47.0" fill="#e8b4bc" stroke="#d49ea8" stroke-width="1"/>
<rect x="382.5" y="634.5" width="5.0" height="41.0" fill="#bfbfbf" stroke="#a6a6a6" stroke-width="1"/>
<rect x="387.5" y="630.5" width="6.0" height="45.0" fill="#bfbfbf" stroke="#a6a6a6" stroke-width="1"/>
<rect x="393.5" y="635.5" width="5.0" height="40.0" fill="#bfbfbf" stroke="#a6a6a6" stroke-width="1"/>
<rect x="398.5" y="630.5" width="6.0" height="45.0" fill="#e8b4bc" stroke="#d49ea8" stroke-width="1"/>
<rect x="404.5" y="636.5" width="6.0" height="39.0" fill="#bfbfbf" stroke="#a6a6a6" stroke-width="1"/>
<rect x="410.5" y="643.5" width="5.0" height="32.0" fill="#bfbfbf" stroke="#a6a6a6" stroke-width="1"/>
<rect x="415.5" y="641.5" width="6.0" height="34.0" fill="#bfbfbf" stroke="#a6a6a6" stroke-width="1"/>
<rect x="421.5" y="635.5" width="6.0" height="40.0" fill="#bfbfbf" stroke="#a6a6a6" stroke-width="1"/>
<rect x="427.5" y="641.5" width="5.0" height="34.0" fill="#e8b4bc" stroke="#d49ea8" stroke-width="1"/>
<rect x="432.5" y="643.5" width="6.0" height="32.0" fill="#e8b4bc" stroke="#d49ea8" stroke-width="1"/>
<rect x="438.5" y="638.5" width="5.0" height="37.0" fill="#e8b4bc" stroke="#d49ea8" stroke-width="1"/>
<rect x="443.5" y="639.5" width="6.0" height="36.0" fill="#bfbfbf" stroke="#a6a6a6" stroke-width="1"/>
<rect x="449.5" y="639.5" width="6.0" height="36.0" fill="#e8b4bc" stroke="#d49ea8" stroke-width="1"/>
<rect x="455.5" y="631.5" width="5.0" height="44.0" fill="#e8b4bc" stroke="#d49ea8" stroke-width="1"/>
<rect x="460.5" y="635.5" width="6.0" height="40.0" fill="#bfbfbf" stroke="#a6a6a6" stroke-width="1"/>
<rect x="466.5" y="639.5" width="6.0" height="36.0" fill="#bfbfbf" stroke="#a6a6a6" stroke-width="1"/>
<rect x="472.5" y="634.5" width="5.0" height="41.0" fill="#bfbfbf" stroke="#a6a6a6" stroke-width="1"/>
<rect x="477.5" y="639.5" width="6.0" height="36.0" fill="#bfbfbf" stroke="#a6a6a6" stroke-width="1"/>
<rect x="483.5" y="630.5" width="5.0" height="45.0" fill="#bfbfbf" stroke="#a6a6a6" stroke-width="1"/>
<rect x="488.5" y="642.5" width="6.0" height="33.0" fill="#e8b4bc" stroke="#d49ea8" stroke-width="1"/>
<rect x="494.5" y="642.5" width="6.0" height="33.0" fill="#e8b4bc" stroke="#d49ea8" stroke-width="1"/>
<rect x="500.5" y="631.5" width="5.0" height="44.0" fill="#e8b4bc" stroke="#d49ea8" stroke-width="1"/>
<rect x="505.5" y="613.5" width="6.0" height="62.0" fill="#e8b4bc" stroke="#d49ea8" stroke-width="1"/>
<rect x="511.5" y="630.5" width="5.0" height="45.0" fill="#bfbfbf" stroke="#a6a6a6" stroke-width="1"/>
<rect x="516.5" y="634.5" width="6.0" height="41.0" fill="#bfbfbf" stroke="#a6a6a6" stroke-width="1"/>
<rect x="522.5" y="634.5" width="6.0" height="41.0" fill="#bfbfbf" stroke="#a6a6a6" stroke-width="1"/>
<rect x="528.5" y="639.5" width="5.0" height="36.0" fill="#e8b4bc" stroke="#d49ea8" stroke-width="1"/>
<rect x="533.5" y="634.5" width="6.0" height="41.0" fill="#bfbfbf" stroke="#a6a6a6" stroke-width="1"/>
<rect x="539.5" y="635.5" width="6.0" height="40.0" fill="#e8b4bc" stroke="#d49ea8" stroke-width="1"/>
<rect x="545.5" y="638.5" width="5.0" height="37.0" fill="#e8b4bc" stroke="#d49ea8" stroke-width="1"/>
<rect x="550.5" y="629.5" width="6.0" height="46.0" fill="#bfbfbf" stroke="#a6a6a6" stroke-width="1"/>
<rect x="556.5" y="628.5" width="5.0" height="47.0" fill="#bfbfbf" stroke="#a6a6a6" stroke-width="1"/>
<rect x="561.5" y="632.5" width="6.0" height="43.0" fill="#bfbfbf" stroke="#a6a6a6" stroke-width="1"/>
<rect x="567.5" y="633.5" width="6.0" height="42.0" fill="#e8b4bc" stroke="#d49ea8" stroke-width="1"/>
<rect x="573.5" y="642.5" width="5.0" height="33.0" fill="#bfbfbf" stroke="#a6a6a6" stroke-width="1"/>
<rect x="578.5" y="641.5" width="6.0" height="34.0" fill="#bfbfbf" stroke="#a6a6a6" stroke-width="1"/>
<rect x="584.5" y="634.5" width="6.0" height="41.0" fill="#bfbfbf" stroke="#a6a6a6" stroke-width="1"/>
<rect x="590.5" y="642.5" width="5.0" height="33.0" fill="#e8b4bc" stroke="#d49ea8" stroke-width="1"/>
<rect x="595.5" y="643.5" width="6.0" height="32.0" fill="#bfbfbf" stroke="#a6a6a6" stroke-width="1"/>
<rect x="601.5" y="642.5" width="5.0" height="33.0" fill="#e8b4bc" stroke="#d49ea8" stroke-width="1"/>
<rect x="606.5" y="632.5" width="6.0" height="43.0" fill="#bfbfbf" stroke="#a6a6a6" stroke-width="1"/>
<rect x="612.5" y="636.5" width="6.0" height="39.0" fill="#e8b4bc" stroke="#d49ea8" stroke-width="1"/>
<rect x="618.5" y="636.5" width="5.0" height="39.0" fill="#bfbfbf" stroke="#a6a6a6" stroke-width="1"/>
<rect x="623.5" y="633.5" width="6.0" height="42.0" fill="#bfbfbf" stroke="#a6a6a6" stroke-width="1"/>
<rect x="629.5" y="638.5" width="5.0" height="37.0" fill="#bfbfbf" stroke="#a6a6a6" stroke-width="1"/>
<rect x="634.5" y="638.5" width="6.0" height="37.0" fill="#e8b4bc" stroke="#d49ea8" stroke-width="1"/>
<rect x="640.5" y="633.5" width="6.0" height="42.0" fill="#bfbfbf" stroke="#a6a6a6" stroke-width="1"/>
<rect x="646.5" y="620.5" width="5.0" height="55.0" fill="#bfbfbf" stroke="#a6a6a6" stroke-width="1"/>
<rect x="651.5" y="638.5" width="6.0" height="37.0" fill="#bfbfbf" stroke="#a6a6a6" stroke-width="1"/>
<rect x="657.5" y="639.5" width="6.0" height="36.0" fill="#e8b4bc" stroke="#d49ea8" stroke-width="1"/>
<rect x="663.5" y="627.5" width="5.0" height="48.0" fill="#e8b4bc" stroke="#d49ea8" stroke-width="1"/>
<rect x="668.5" y="641.5" width="6.0" height="34.0" fill="#bfbfbf" stroke="#a6a6a6" stroke-width="1"/>
<rect x="674.5" y="635.5" width="5.0" height="40.0" fill="#bfbfbf" stroke="#a6a6a6" stroke-width="1"/>
<rect x="679.5" y="642.5" width="6.0" height="33.0" fill="#e8b4bc" stroke="#d49ea8" stroke-width="1"/>
<rect x="685.5" y="644.5" width="6.0" height="31.0" fill="#bfbfbf" stroke="#a6a6a6" stroke-width="1"/>
<rect x="691.5" y="642.5" width="5.0" height="33.0" fill="#bfbfbf" stroke="#a6a6a6" stroke-width="1"/>
<line x1="10.5" y1="667.5" x2="701.5" y2="667.5" stroke="#a0a0a0" stroke-opacity="0.35" stroke-width="1"/>
<line x1="10.5" y1="639.5" x2="701.5" y2="639.5" stroke="#a0a0a0" stroke-opacity="0.35" stroke-width="1"/>
<path d="M10.5 675.5V376.5H701.5" fill="none" stroke="#c8c8c8" stroke-width="1"/>
<path d="M701.5 376.5V675.5H10.5" fill="none" stroke="#c0c0c0" stroke-width="1"/>
<path d="M13.5 675.5v2.5M18.5 675.5v2.5M24.5 675.5v2.5M30.5 675.5v2.5M35.5 675.5v2.5M41.5 675.5v2.5M47.5 675.5v2.5M52.5 675.5v2.5M58.5 675.5v2.5M63.5 675.5v2.5M69.5 675.5v2.5M75.5 675.5v2.5M80.5 675.5v2.5M86.5 675.5v2.5M91.5 675.5v2.5M97.5 675.5v2.5M103.5 675.5v2.5M108.5 675.5v2.5M114.5 675.5v2.5M120.5 675.5v2.5M125.5 675.5v2.5M131.5 675.5v2.5M136.5 675.5v2.5M142.5 675.5v2.5M148.5 675.5v2.5M153.5 675.5v2.5M159.5 675.5v2.5M165.5 675.5v2.5M170.5 675.5v2.5M176.5 675.5v2.5M181.5 675.5v2.5M187.5 675.5v2.5M193.5 675.5v2.5M198.5 675.5v2.5M204.5 675.5v2.5M209.5 675.5v2.5M215.5 675.5v2.5M221.5 675.5v2.5M226.5 675.5v2.5M232.5 675.5v2.5M238.5 675.5v2.5M243.5 675.5v2.5M249.5 675.5v2.5M254.5 675.5v2.5M260.5 675.5v2.5M266.5 675.5v2.5M271.5 675.5v2.5M277.5 675.5v2.5M283.5 675.5v2.5M288.5 675.5v2.5M294.5 675.5v2.5M299.5 675.5v2.5M305.5 675.5v2.5M311.5 675.5v2.5M316.5 675.5v2.5M322.5 675.5v2.5M327.5 675.5v2.5M333.5 675.5v2.5M339.5 675.5v2.5M344.5 675.5v2.5M350.5 675.5v2.5M356.5 675.5v2.5M361.5 675.5v2.5M367.5 675.5v2.5M372.5 675.5v2.5M378.5 675.5v2.5M384.5 675.5v2.5M389.5 675.5v2.5M395.5 675.5v2.5M400.5 675.5v2.5M406.5 675.5v2.5M412.5 675.5v2.5M417.5 675.5v2.5M423.5 675.5v2.5M429.5 675.5v2.5M434.5 675.5v2.5M440.5 675.5v2.5M445.5 675.5v2.5M451.5 675.5v2.5M457.5 675.5v2.5M462.5 675.5v2.5M468.5 675.5v2.5M474.5 675.5v2.5M479.5 675.5v2.5M485.5 675.5v2.5M490.5 675.5v2.5M496.5 675.5v2.5M502.5 675.5v2.5M507.5 675.5v2.5M513.5 675.5v2.5M518.5 675.5v2.5M524.5 675.5v2.5M530.5 675.5v2.5M535.5 675.5v2.5M541.5 675.5v2.5M547.5 675.5v2.5M552.5 675.5v2.5M558.5 675.5v2.5M563.5 675.5v2.5M569.5 675.5v2.5M575.5 675.5v2.5M580.5 675.5v2.5M586.5 675.5v2.5M592.5 675.5v2.5M597.5 675.5v2.5M603.5 675.5v2.5M608.5 675.5v2.5M614.5 675.5v2.5M620.5 675.5v2.5M625.5 675.5v2.5M631.5 675.5v2.5M636.5 675.5v2.5M642.5 675.5v2.5M648.5 675.5v2.5M653.5 675.5v2.5M659.5 675.5v2.5M665.5 675.5v2.5M670.5 675.5v2.5M676.5 675.5v2.5M681.5 675.5v2.5M687.5 675.5v2.5M693.5 675.5v2.5" stroke="#d6d6d6" stroke-width="1"/>
<path d="M10.5 497.6 C13.8 497.0 22.6 495.4 30.0 494.0 C37.4 492.6 45.1 490.9 55.0 488.9 C64.9 486.9 77.9 484.3 89.3 482.0 C100.7 479.7 111.1 477.2 123.6 475.1 C136.1 473.1 151.6 471.4 164.3 469.7 C177.0 467.9 189.7 466.4 200.0 464.6 C210.3 462.8 218.9 460.3 226.4 459.0 C233.9 457.7 237.9 457.9 244.9 457.0 C251.9 456.1 261.8 454.6 268.6 453.5 C275.4 452.4 279.9 451.2 285.8 450.4 C291.8 449.6 288.0 448.7 304.3 448.6 C320.6 448.5 362.6 449.3 383.7 449.7 C404.8 450.1 413.4 450.7 431.2 450.9 C449.0 451.1 476.7 450.6 490.6 450.9 C504.5 451.2 506.2 452.2 514.4 452.8 C522.6 453.4 527.4 453.4 540.0 454.4 C552.6 455.4 577.4 457.8 590.0 458.6 C602.6 459.4 609.8 459.0 615.7 459.3 C621.7 459.6 616.7 460.1 625.7 460.3 C634.8 460.5 658.6 460.6 670.0 460.7 C681.4 460.8 690.0 460.9 694.0 460.9" fill="none" stroke="#e0353f" stroke-width="1.6" stroke-linejoin="round"/>
<path d="M110.7 410.3 C113.9 411.0 123.0 413.1 130.0 414.3 C137.0 415.5 145.7 416.6 152.9 417.7 C160.1 418.8 167.7 420.3 173.4 420.6 C179.1 420.9 180.7 419.5 187.1 419.4 C193.5 419.2 205.6 419.2 212.0 419.7 C218.4 420.2 220.4 421.8 225.7 422.6 C231.0 423.4 239.1 423.8 244.0 424.3 C248.9 424.8 249.3 425.2 255.0 425.4 C260.6 425.6 271.2 425.1 277.9 425.4 C284.6 425.7 289.7 426.2 295.0 427.1 C300.3 428.0 305.2 429.2 309.9 430.6 C314.5 432.0 318.7 433.6 322.9 435.7 C327.1 437.8 331.0 440.7 335.0 443.1 C339.0 445.5 342.9 448.1 347.1 450.0 C351.3 451.9 355.1 452.3 360.0 454.4 C364.9 456.5 369.5 459.7 376.6 462.7 C383.7 465.7 394.0 469.4 402.7 472.2 C411.4 475.0 421.0 477.0 428.9 479.4 C436.8 481.8 443.9 483.7 450.2 486.5 C456.5 489.3 460.9 492.8 466.9 496.0 C472.8 499.2 479.6 502.3 485.9 505.5 C492.2 508.7 498.2 511.4 504.9 515.0 C511.6 518.6 519.8 523.5 526.0 527.0 C532.2 530.5 536.9 532.8 542.1 536.3 C547.3 539.8 551.7 544.4 557.1 547.9 C562.5 551.4 568.8 555.2 574.3 557.5 C579.8 559.8 585.3 561.1 590.0 561.7 C594.7 562.3 598.8 561.4 602.7 560.9 C606.7 560.4 608.7 559.9 613.7 558.6 C618.7 557.3 627.4 554.5 632.7 553.0 C638.0 551.5 640.6 551.5 645.4 549.9 C650.1 548.3 655.7 545.4 661.2 543.5 C666.8 541.6 673.3 540.4 678.7 538.8 C684.1 537.2 691.2 534.8 693.7 534.0" fill="none" stroke="#3c3c9c" stroke-width="1.6" stroke-linejoin="round"/>
<rect x="7.0" y="408" width="1" height="2" fill="#d4083a"/>
<rect x="7.0" y="412" width="1" height="7" fill="#d4083a"/>
<rect x="5.5" y="410.5" width="4" height="1" fill="none" stroke="#d4083a" stroke-width="1"/>
<rect x="13.0" y="398" width="1" height="1" fill="#000"/>
<rect x="13.0" y="410" width="1" height="2" fill="#000"/>
<rect x="11.5" y="399.5" width="4" height="10" fill="none" stroke="#000" stroke-width="1"/>
<rect x="18.0" y="393" width="1" height="3" fill="#000"/>
<rect x="18.0" y="397" width="1" height="6" fill="#000"/>
<rect x="16.5" y="396.5" width="4" height="1" fill="none" stroke="#000" stroke-width="1"/>
<rect x="24.0" y="406" width="1" height="2" fill="#d4083a"/>
<rect x="22.0" y="398" width="5" height="8" fill="#d4083a"/>
<rect x="30.0" y="420" width="1" height="4" fill="#d4083a"/>
<rect x="28.0" y="406" width="5" height="14" fill="#d4083a"/>
<rect x="35.0" y="414" width="1" height="6" fill="#d4083a"/>
<rect x="35.0" y="421" width="1" height="2" fill="#d4083a"/>
<rect x="33.0" y="420" width="5" height="1" fill="#d4083a"/>
<rect x="41.0" y="412" width="1" height="5" fill="#000"/>
<rect x="41.0" y="421" width="1" height="4" fill="#000"/>
<rect x="39.5" y="417.5" width="4" height="3" fill="none" stroke="#000" stroke-width="1"/>
<rect x="47.0" y="410" width="1" height="3" fill="#000"/>
<rect x="47.0" y="417" width="1" height="6" fill="#000"/>
<rect x="45.5" y="413.5" width="4" height="3" fill="none" stroke="#000" stroke-width="1"/>
<rect x="52.0" y="404" width="1" height="4" fill="#000"/>
<rect x="50.5" y="408.5" width="4" height="4" fill="none" stroke="#000" stroke-width="1"/>
<rect x="56.5" y="395.5" width="4" height="12" fill="none" stroke="#000" stroke-width="1"/>
<rect x="63.0" y="423" width="1" height="1" fill="#d4083a"/>
<rect x="61.0" y="395" width="5" height="28" fill="#d4083a"/>
<rect x="69.0" y="420" width="1" height="3" fill="#d4083a"/>
<rect x="69.0" y="424" width="1" height="7" fill="#d4083a"/>
<rect x="67.0" y="423" width="5" height="1" fill="#d4083a"/>
<rect x="75.0" y="435" width="1" height="3" fill="#d4083a"/>
<rect x="73.0" y="427" width="5" height="8" fill="#d4083a"/>
<rect x="80.0" y="449" width="1" height="1" fill="#d4083a"/>
<rect x="78.0" y="435" width="5" height="14" fill="#d4083a"/>
<rect x="86.0" y="439" width="1" height="9" fill="#d4083a"/>
<rect x="84.0" y="448" width="5" height="2" fill="#d4083a"/>
<rect x="91.0" y="448" width="1" height="1" fill="#d4083a"/>
<rect x="91.0" y="456" width="1" height="2" fill="#d4083a"/>
<rect x="89.0" y="449" width="5" height="7" fill="#d4083a"/>
<rect x="97.0" y="440" width="1" height="7" fill="#000"/>
<rect x="95.5" y="447.5" width="4" height="7" fill="none" stroke="#000" stroke-width="1"/>
<rect x="103.0" y="464" width="1" height="2" fill="#d4083a"/>
<rect x="101.0" y="447" width="5" height="17" fill="#d4083a"/>
<rect x="108.0" y="458" width="1" height="4" fill="#000"/>
<rect x="108.0" y="463" width="1" height="6" fill="#000"/>
<rect x="106.0" y="462" width="5" height="1" fill="#000"/>
<rect x="114.0" y="443" width="1" height="5" fill="#000"/>
<rect x="112.5" y="448.5" width="4" height="14" fill="none" stroke="#000" stroke-width="1"/>
<rect x="120.0" y="469" width="1" height="3" fill="#d4083a"/>
<rect x="118.0" y="448" width="5" height="21" fill="#d4083a"/>
<rect x="125.0" y="460" width="1" height="7" fill="#000"/>
<rect x="125.0" y="469" width="1" height="7" fill="#000"/>
<rect x="123.5" y="467.5" width="4" height="1" fill="none" stroke="#000" stroke-width="1"/>
<rect x="131.0" y="455" width="1" height="8" fill="#000"/>
<rect x="131.0" y="465" width="1" height="2" fill="#000"/>
<rect x="129.5" y="463.5" width="4" height="1" fill="none" stroke="#000" stroke-width="1"/>
<rect x="136.0" y="454" width="1" height="3" fill="#000"/>
<rect x="136.0" y="463" width="1" height="4" fill="#000"/>
<rect x="134.5" y="457.5" width="4" height="5" fill="none" stroke="#000" stroke-width="1"/>
<rect x="140.5" y="439.5" width="4" height="17" fill="none" stroke="#000" stroke-width="1"/>
<rect x="148.0" y="437" width="1" height="2" fill="#d4083a"/>
<rect x="148.0" y="448" width="1" height="1" fill="#d4083a"/>
<rect x="146.0" y="439" width="5" height="9" fill="#d4083a"/>
<rect x="153.0" y="451" width="1" height="20" fill="#d4083a"/>
<rect x="151.0" y="449" width="5" height="2" fill="#d4083a"/>
<rect x="159.0" y="466" width="1" height="1" fill="#d4083a"/>
<rect x="157.0" y="451" width="5" height="15" fill="#d4083a"/>
<rect x="165.0" y="450" width="1" height="5" fill="#000"/>
<rect x="165.0" y="466" width="1" height="1" fill="#000"/>
<rect x="163.5" y="455.5" width="4" height="10" fill="none" stroke="#000" stroke-width="1"/>
<rect x="168.5" y="439.5" width="4" height="14" fill="none" stroke="#000" stroke-width="1"/>
<rect x="176.0" y="427" width="1" height="1" fill="#000"/>
<rect x="174.5" y="428.5" width="4" height="10" fill="none" stroke="#000" stroke-width="1"/>
<rect x="181.0" y="415" width="1" height="2" fill="#000"/>
<rect x="179.5" y="417.5" width="4" height="11" fill="none" stroke="#000" stroke-width="1"/>
<rect x="187.0" y="398" width="1" height="1" fill="#000"/>
<rect x="185.5" y="399.5" width="4" height="16" fill="none" stroke="#000" stroke-width="1"/>
<rect x="193.0" y="397" width="1" height="2" fill="#d4083a"/>
<rect x="193.0" y="401" width="1" height="3" fill="#d4083a"/>
<rect x="191.0" y="399" width="5" height="2" fill="#d4083a"/>
<rect x="198.0" y="399" width="1" height="1" fill="#000"/>
<rect x="198.0" y="401" width="1" height="7" fill="#000"/>
<rect x="196.5" y="400.5" width="4" height="1" fill="none" stroke="#000" stroke-width="1"/>
<rect x="204.0" y="384" width="1" height="3" fill="#000"/>
<rect x="202.5" y="387.5" width="4" height="11" fill="none" stroke="#000" stroke-width="1"/>
<rect x="209.0" y="387" width="1" height="1" fill="#d4083a"/>
<rect x="209.0" y="396" width="1" height="9" fill="#d4083a"/>
<rect x="207.0" y="388" width="5" height="8" fill="#d4083a"/>
<rect x="215.0" y="395" width="1" height="1" fill="#d4083a"/>
<rect x="215.0" y="417" width="1" height="1" fill="#d4083a"/>
<rect x="213.0" y="396" width="5" height="21" fill="#d4083a"/>
<rect x="221.0" y="410" width="1" height="7" fill="#d4083a"/>
<rect x="219.0" y="417" width="5" height="6" fill="#d4083a"/>
<rect x="226.0" y="407" width="1" height="13" fill="#000"/>
<rect x="224.5" y="420.5" width="4" height="1" fill="none" stroke="#000" stroke-width="1"/>
<rect x="232.0" y="410" width="1" height="10" fill="#d4083a"/>
<rect x="232.0" y="427" width="1" height="3" fill="#d4083a"/>
<rect x="230.0" y="420" width="5" height="7" fill="#d4083a"/>
<rect x="238.0" y="420" width="1" height="1" fill="#000"/>
<rect x="238.0" y="427" width="1" height="1" fill="#000"/>
<rect x="236.5" y="421.5" width="4" height="5" fill="none" stroke="#000" stroke-width="1"/>
<rect x="243.0" y="431" width="1" height="9" fill="#d4083a"/>
<rect x="241.0" y="420" width="5" height="11" fill="#d4083a"/>
<rect x="249.0" y="409" width="1" height="2" fill="#000"/>
<rect x="247.5" y="411.5" width="4" height="17" fill="none" stroke="#000" stroke-width="1"/>
<rect x="254.0" y="407" width="1" height="2" fill="#d4083a"/>
<rect x="254.0" y="412" width="1" height="2" fill="#d4083a"/>
<rect x="252.0" y="409" width="5" height="3" fill="#d4083a"/>
<rect x="260.0" y="392" width="1" height="4" fill="#000"/>
<rect x="258.5" y="396.5" width="4" height="15" fill="none" stroke="#000" stroke-width="1"/>
<rect x="266.0" y="393" width="1" height="2" fill="#000"/>
<rect x="266.0" y="396" width="1" height="6" fill="#000"/>
<rect x="264.0" y="395" width="5" height="1" fill="#000"/>
<rect x="271.0" y="402" width="1" height="6" fill="#d4083a"/>
<rect x="269.0" y="395" width="5" height="7" fill="#d4083a"/>
<rect x="277.0" y="400" width="1" height="1" fill="#d4083a"/>
<rect x="277.0" y="407" width="1" height="1" fill="#d4083a"/>
<rect x="275.0" y="401" width="5" height="6" fill="#d4083a"/>
<rect x="283.0" y="431" width="1" height="2" fill="#d4083a"/>
<rect x="281.0" y="406" width="5" height="25" fill="#d4083a"/>
<rect x="288.0" y="420" width="1" height="12" fill="#d4083a"/>
<rect x="286.0" y="432" width="5" height="4" fill="#d4083a"/>
<rect x="294.0" y="432" width="1" height="3" fill="#d4083a"/>
<rect x="294.0" y="444" width="1" height="5" fill="#d4083a"/>
<rect x="292.0" y="435" width="5" height="9" fill="#d4083a"/>
<rect x="299.0" y="430" width="1" height="13" fill="#d4083a"/>
<rect x="299.0" y="448" width="1" height="12" fill="#d4083a"/>
<rect x="297.0" y="443" width="5" height="5" fill="#d4083a"/>
<rect x="303.0" y="449" width="5" height="31" fill="#d4083a"/>
<rect x="311.0" y="472" width="1" height="2" fill="#000"/>
<rect x="311.0" y="479" width="1" height="20" fill="#000"/>
<rect x="309.5" y="474.5" width="4" height="4" fill="none" stroke="#000" stroke-width="1"/>
<rect x="314.0" y="473" width="5" height="60" fill="#d4083a"/>
<rect x="322.0" y="520" width="1" height="13" fill="#d4083a"/>
<rect x="322.0" y="534" width="1" height="31" fill="#d4083a"/>
<rect x="320.0" y="533" width="5" height="1" fill="#d4083a"/>
<rect x="327.0" y="618" width="1" height="1" fill="#d4083a"/>
<rect x="325.0" y="535" width="5" height="83" fill="#d4083a"/>
<rect x="333.0" y="617" width="1" height="21" fill="#000"/>
<rect x="331.5" y="561.5" width="4" height="55" fill="none" stroke="#000" stroke-width="1"/>
<rect x="339.0" y="618" width="1" height="1" fill="#d4083a"/>
<rect x="337.0" y="562" width="5" height="56" fill="#d4083a"/>
<rect x="344.0" y="547" width="1" height="14" fill="#000"/>
<rect x="342.5" y="561.5" width="4" height="55" fill="none" stroke="#000" stroke-width="1"/>
<rect x="350.0" y="544" width="1" height="10" fill="#000"/>
<rect x="350.0" y="561" width="1" height="1" fill="#000"/>
<rect x="348.5" y="554.5" width="4" height="6" fill="none" stroke="#000" stroke-width="1"/>
<rect x="356.0" y="528" width="1" height="1" fill="#000"/>
<rect x="354.5" y="529.5" width="4" height="24" fill="none" stroke="#000" stroke-width="1"/>
<rect x="361.0" y="541" width="1" height="12" fill="#d4083a"/>
<rect x="359.0" y="529" width="5" height="12" fill="#d4083a"/>
<rect x="367.0" y="525" width="1" height="15" fill="#000"/>
<rect x="367.0" y="541" width="1" height="7" fill="#000"/>
<rect x="365.0" y="540" width="5" height="1" fill="#000"/>
<rect x="372.0" y="595" width="1" height="11" fill="#d4083a"/>
<rect x="370.0" y="544" width="5" height="51" fill="#d4083a"/>
<rect x="378.0" y="580" width="1" height="15" fill="#d4083a"/>
<rect x="378.0" y="613" width="1" height="2" fill="#d4083a"/>
<rect x="376.0" y="595" width="5" height="18" fill="#d4083a"/>
<rect x="384.0" y="590" width="1" height="22" fill="#000"/>
<rect x="384.0" y="614" width="1" height="3" fill="#000"/>
<rect x="382.0" y="612" width="5" height="2" fill="#000"/>
<rect x="387.5" y="572.5" width="4" height="40" fill="none" stroke="#000" stroke-width="1"/>
<rect x="395.0" y="556" width="1" height="1" fill="#000"/>
<rect x="395.0" y="572" width="1" height="6" fill="#000"/>
<rect x="393.5" y="557.5" width="4" height="14" fill="none" stroke="#000" stroke-width="1"/>
<rect x="400.0" y="543" width="1" height="14" fill="#d4083a"/>
<rect x="400.0" y="576" width="1" height="4" fill="#d4083a"/>
<rect x="398.0" y="557" width="5" height="19" fill="#d4083a"/>
<rect x="406.0" y="551" width="1" height="6" fill="#000"/>
<rect x="406.0" y="576" width="1" height="25" fill="#000"/>
<rect x="404.5" y="557.5" width="4" height="18" fill="none" stroke="#000" stroke-width="1"/>
<rect x="410.5" y="522.5" width="4" height="33" fill="none" stroke="#000" stroke-width="1"/>
<rect x="417.0" y="512" width="1" height="9" fill="#000"/>
<rect x="417.0" y="523" width="1" height="15" fill="#000"/>
<rect x="415.5" y="521.5" width="4" height="1" fill="none" stroke="#000" stroke-width="1"/>
<rect x="423.0" y="503" width="1" height="11" fill="#000"/>
<rect x="423.0" y="521" width="1" height="3" fill="#000"/>
<rect x="421.5" y="514.5" width="4" height="6" fill="none" stroke="#000" stroke-width="1"/>
<rect x="429.0" y="503" width="1" height="11" fill="#d4083a"/>
<rect x="429.0" y="529" width="1" height="1" fill="#d4083a"/>
<rect x="427.0" y="514" width="5" height="15" fill="#d4083a"/>
<rect x="434.0" y="561" width="1" height="2" fill="#d4083a"/>
<rect x="432.0" y="530" width="5" height="31" fill="#d4083a"/>
<rect x="440.0" y="569" width="1" height="28" fill="#d4083a"/>
<rect x="438.0" y="560" width="5" height="9" fill="#d4083a"/>
<rect x="445.0" y="533" width="1" height="1" fill="#000"/>
<rect x="443.5" y="534.5" width="4" height="33" fill="none" stroke="#000" stroke-width="1"/>
<rect x="451.0" y="529" width="1" height="4" fill="#d4083a"/>
<rect x="451.0" y="548" width="1" height="2" fill="#d4083a"/>
<rect x="449.0" y="533" width="5" height="15" fill="#d4083a"/>
<rect x="457.0" y="581" width="1" height="6" fill="#d4083a"/>
<rect x="455.0" y="548" width="5" height="33" fill="#d4083a"/>
<rect x="462.0" y="581" width="1" height="19" fill="#000"/>
<rect x="460.5" y="572.5" width="4" height="8" fill="none" stroke="#000" stroke-width="1"/>
<rect x="468.0" y="557" width="1" height="4" fill="#000"/>
<rect x="468.0" y="572" width="1" height="5" fill="#000"/>
<rect x="466.5" y="561.5" width="4" height="10" fill="none" stroke="#000" stroke-width="1"/>
<rect x="474.0" y="535" width="1" height="10" fill="#000"/>
<rect x="474.0" y="561" width="1" height="10" fill="#000"/>
<rect x="472.5" y="545.5" width="4" height="15" fill="none" stroke="#000" stroke-width="1"/>
<rect x="479.0" y="524" width="1" height="1" fill="#000"/>
<rect x="477.5" y="525.5" width="4" height="19" fill="none" stroke="#000" stroke-width="1"/>
<rect x="485.0" y="513" width="1" height="4" fill="#000"/>
<rect x="485.0" y="523" width="1" height="5" fill="#000"/>
<rect x="483.5" y="517.5" width="4" height="5" fill="none" stroke="#000" stroke-width="1"/>
<rect x="490.0" y="518" width="1" height="1" fill="#d4083a"/>
<rect x="490.0" y="530" width="1" height="15" fill="#d4083a"/>
<rect x="488.0" y="519" width="5" height="11" fill="#d4083a"/>
<rect x="496.0" y="513" width="1" height="15" fill="#d4083a"/>
<rect x="496.0" y="531" width="1" height="2" fill="#d4083a"/>
<rect x="494.0" y="528" width="5" height="3" fill="#d4083a"/>
<rect x="502.0" y="527" width="1" height="3" fill="#d4083a"/>
<rect x="500.0" y="530" width="5" height="38" fill="#d4083a"/>
<rect x="507.0" y="608" width="1" height="12" fill="#d4083a"/>
<rect x="505.0" y="570" width="5" height="38" fill="#d4083a"/>
<rect x="513.0" y="593" width="1" height="6" fill="#000"/>
<rect x="513.0" y="607" width="1" height="10" fill="#000"/>
<rect x="511.5" y="599.5" width="4" height="7" fill="none" stroke="#000" stroke-width="1"/>
<rect x="518.0" y="570" width="1" height="1" fill="#000"/>
<rect x="518.0" y="599" width="1" height="6" fill="#000"/>
<rect x="516.5" y="571.5" width="4" height="27" fill="none" stroke="#000" stroke-width="1"/>
<rect x="524.0" y="537" width="1" height="22" fill="#000"/>
<rect x="522.5" y="559.5" width="4" height="11" fill="none" stroke="#000" stroke-width="1"/>
<rect x="530.0" y="548" width="1" height="11" fill="#d4083a"/>
<rect x="528.0" y="559" width="5" height="25" fill="#d4083a"/>
<rect x="535.0" y="557" width="1" height="19" fill="#000"/>
<rect x="535.0" y="583" width="1" height="13" fill="#000"/>
<rect x="533.5" y="576.5" width="4" height="6" fill="none" stroke="#000" stroke-width="1"/>
<rect x="539.0" y="575" width="5" height="30" fill="#d4083a"/>
<rect x="547.0" y="596" width="1" height="9" fill="#d4083a"/>
<rect x="545.0" y="605" width="5" height="35" fill="#d4083a"/>
<rect x="552.0" y="642" width="1" height="26" fill="#000"/>
<rect x="550.5" y="613.5" width="4" height="28" fill="none" stroke="#000" stroke-width="1"/>
<rect x="558.0" y="590" width="1" height="2" fill="#000"/>
<rect x="558.0" y="613" width="1" height="9" fill="#000"/>
<rect x="556.5" y="592.5" width="4" height="20" fill="none" stroke="#000" stroke-width="1"/>
<rect x="563.0" y="592" width="1" height="9" fill="#000"/>
<rect x="561.5" y="569.5" width="4" height="22" fill="none" stroke="#000" stroke-width="1"/>
<rect x="569.0" y="562" width="1" height="7" fill="#d4083a"/>
<rect x="569.0" y="579" width="1" height="5" fill="#d4083a"/>
<rect x="567.0" y="569" width="5" height="10" fill="#d4083a"/>
<rect x="573.5" y="539.5" width="4" height="37" fill="none" stroke="#000" stroke-width="1"/>
<rect x="580.0" y="534" width="1" height="3" fill="#000"/>
<rect x="580.0" y="539" width="1" height="8" fill="#000"/>
<rect x="578.0" y="537" width="5" height="2" fill="#000"/>
<rect x="586.0" y="514" width="1" height="12" fill="#000"/>
<rect x="584.5" y="526.5" width="4" height="10" fill="none" stroke="#000" stroke-width="1"/>
<rect x="592.0" y="530" width="1" height="12" fill="#d4083a"/>
<rect x="590.0" y="526" width="5" height="4" fill="#d4083a"/>
<rect x="597.0" y="508" width="1" height="1" fill="#000"/>
<rect x="597.0" y="527" width="1" height="1" fill="#000"/>
<rect x="595.5" y="509.5" width="4" height="17" fill="none" stroke="#000" stroke-width="1"/>
<rect x="603.0" y="508" width="1" height="1" fill="#d4083a"/>
<rect x="601.0" y="509" width="5" height="24" fill="#d4083a"/>
<rect x="608.0" y="500" width="1" height="9" fill="#000"/>
<rect x="608.0" y="531" width="1" height="11" fill="#000"/>
<rect x="606.5" y="509.5" width="4" height="21" fill="none" stroke="#000" stroke-width="1"/>
<rect x="614.0" y="504" width="1" height="6" fill="#d4083a"/>
<rect x="614.0" y="524" width="1" height="3" fill="#d4083a"/>
<rect x="612.0" y="510" width="5" height="14" fill="#d4083a"/>
<rect x="620.0" y="514" width="1" height="4" fill="#000"/>
<rect x="620.0" y="523" width="1" height="10" fill="#000"/>
<rect x="618.5" y="518.5" width="4" height="4" fill="none" stroke="#000" stroke-width="1"/>
<rect x="623.5" y="495.5" width="4" height="22" fill="none" stroke="#000" stroke-width="1"/>
<rect x="631.0" y="477" width="1" height="2" fill="#000"/>
<rect x="629.5" y="479.5" width="4" height="15" fill="none" stroke="#000" stroke-width="1"/>
<rect x="636.0" y="479" width="1" height="1" fill="#d4083a"/>
<rect x="634.0" y="480" width="5" height="24" fill="#d4083a"/>
<rect x="642.0" y="487" width="1" height="4" fill="#000"/>
<rect x="642.0" y="504" width="1" height="8" fill="#000"/>
<rect x="640.5" y="491.5" width="4" height="12" fill="none" stroke="#000" stroke-width="1"/>
<rect x="648.0" y="443" width="1" height="7" fill="#000"/>
<rect x="646.5" y="450.5" width="4" height="38" fill="none" stroke="#000" stroke-width="1"/>
<rect x="653.0" y="447" width="1" height="3" fill="#000"/>
<rect x="653.0" y="451" width="1" height="5" fill="#000"/>
<rect x="651.5" y="450.5" width="4" height="1" fill="none" stroke="#000" stroke-width="1"/>
<rect x="657.0" y="450" width="5" height="30" fill="#d4083a"/>
<rect x="665.0" y="516" width="1" height="1" fill="#d4083a"/>
<rect x="663.0" y="482" width="5" height="34" fill="#d4083a"/>
<rect x="670.0" y="491" width="1" height="5" fill="#000"/>
<rect x="668.5" y="496.5" width="4" height="17" fill="none" stroke="#000" stroke-width="1"/>
<rect x="676.0" y="471" width="1" height="1" fill="#000"/>
<rect x="676.0" y="495" width="1" height="3" fill="#000"/>
<rect x="674.5" y="472.5" width="4" height="22" fill="none" stroke="#000" stroke-width="1"/>
<rect x="681.0" y="481" width="1" height="14" fill="#d4083a"/>
<rect x="679.0" y="474" width="5" height="7" fill="#d4083a"/>
<rect x="687.0" y="472" width="1" height="1" fill="#000"/>
<rect x="687.0" y="480" width="1" height="13" fill="#000"/>
<rect x="685.5" y="473.5" width="4" height="6" fill="none" stroke="#000" stroke-width="1"/>
<rect x="693.0" y="456" width="1" height="3" fill="#000"/>
<rect x="693.0" y="472" width="1" height="7" fill="#000"/>
<rect x="691.5" y="459.5" width="4" height="12" fill="none" stroke="#000" stroke-width="1"/>
<text x="8.7" y="21.4" font-family="Liberation Sans, sans-serif" font-size="14" font-weight="bold" fill="#000" textLength="33.3" lengthAdjust="spacingAndGlyphs">$TNX</text>
<text x="45.9" y="20.8" font-family="Liberation Sans, sans-serif" font-size="10.8" fill="#222" textLength="152.8" lengthAdjust="spacingAndGlyphs">(10 Year Treasury Note Yield)</text>
<text x="203.1" y="20.8" font-family="Liberation Sans, sans-serif" font-size="9.6" fill="#222" textLength="26.1" lengthAdjust="spacingAndGlyphs">INDX</text>
<text x="7.9" y="34" font-family="Liberation Sans, sans-serif" font-size="10.2" fill="#222" textLength="55.4" lengthAdjust="spacingAndGlyphs">8-Nov-2011</text>
<text x="313.2" y="33.8" font-family="Liberation Sans, sans-serif" font-size="11.3" font-weight="bold" fill="#000" textLength="29" lengthAdjust="spacingAndGlyphs">Open</text>
<text x="345.4" y="33.8" font-family="Liberation Sans, sans-serif" font-size="10" fill="#222" textLength="28.5" lengthAdjust="spacingAndGlyphs">20.47</text>
<text x="380.5" y="33.8" font-family="Liberation Sans, sans-serif" font-size="11.3" font-weight="bold" fill="#000" textLength="25" lengthAdjust="spacingAndGlyphs">High</text>
<text x="408.7" y="33.8" font-family="Liberation Sans, sans-serif" font-size="10" fill="#222" textLength="28.5" lengthAdjust="spacingAndGlyphs">20.68</text>
<text x="443.3" y="33.8" font-family="Liberation Sans, sans-serif" font-size="11.3" font-weight="bold" fill="#000" textLength="24.8" lengthAdjust="spacingAndGlyphs">Low</text>
<text x="472" y="33.8" font-family="Liberation Sans, sans-serif" font-size="10" fill="#222" textLength="28" lengthAdjust="spacingAndGlyphs">19.99</text>
<text x="505.8" y="33.8" font-family="Liberation Sans, sans-serif" font-size="11.3" font-weight="bold" fill="#000" textLength="32.5" lengthAdjust="spacingAndGlyphs">Close</text>
<text x="542.2" y="33.8" font-family="Liberation Sans, sans-serif" font-size="10" fill="#222" textLength="28.5" lengthAdjust="spacingAndGlyphs">20.65</text>
<text x="577.3" y="33.8" font-family="Liberation Sans, sans-serif" font-size="11.3" font-weight="bold" fill="#000" textLength="22.4" lengthAdjust="spacingAndGlyphs">Chg</text>
<text x="603.4" y="33.8" font-family="Liberation Sans, sans-serif" font-size="10" fill="#222" textLength="76" lengthAdjust="spacingAndGlyphs">+0.71 (+3.56%)</text>
<path d="M682 33 L689.4 33 L685.7 28 Z" fill="#2e7d32"/>
<text x="596.3" y="21.1" font-family="Liberation Sans, sans-serif" font-size="11" fill="#666" textLength="93.1" lengthAdjust="spacingAndGlyphs">© StockCharts.com</text>
<text x="10.2" y="360" font-family="Liberation Sans, sans-serif" font-size="14" font-weight="bold" fill="#000" textLength="36.9" lengthAdjust="spacingAndGlyphs">$SPX</text>
<text x="50" y="359.1" font-family="Liberation Sans, sans-serif" font-size="10.8" fill="#222" textLength="148.7" lengthAdjust="spacingAndGlyphs">(S&amp;P 500 Large Cap Index)</text>
<text x="204.6" y="359.1" font-family="Liberation Sans, sans-serif" font-size="9.6" fill="#222" textLength="26.4" lengthAdjust="spacingAndGlyphs">INDX</text>
<text x="9.6" y="374.2" font-family="Liberation Sans, sans-serif" font-size="10.2" fill="#222" textLength="59.7" lengthAdjust="spacingAndGlyphs">8-Nov-2011</text>
<text x="152.5" y="373.8" font-family="Liberation Sans, sans-serif" font-size="11.3" font-weight="bold" fill="#000" textLength="31.7" lengthAdjust="spacingAndGlyphs">Open</text>
<text x="189.5" y="373.8" font-family="Liberation Sans, sans-serif" font-size="10" fill="#222" textLength="41.5" lengthAdjust="spacingAndGlyphs">1261.12</text>
<text x="239" y="373.8" font-family="Liberation Sans, sans-serif" font-size="11.3" font-weight="bold" fill="#000" textLength="25.6" lengthAdjust="spacingAndGlyphs">High</text>
<text x="269.9" y="373.8" font-family="Liberation Sans, sans-serif" font-size="10" fill="#222" textLength="42.2" lengthAdjust="spacingAndGlyphs">1277.55</text>
<text x="320" y="373.8" font-family="Liberation Sans, sans-serif" font-size="11.3" font-weight="bold" fill="#000" textLength="25.1" lengthAdjust="spacingAndGlyphs">Low</text>
<text x="350.9" y="373.8" font-family="Liberation Sans, sans-serif" font-size="10" fill="#222" textLength="41.7" lengthAdjust="spacingAndGlyphs">1254.99</text>
<text x="401.3" y="373.8" font-family="Liberation Sans, sans-serif" font-size="11.3" font-weight="bold" fill="#000" textLength="34.3" lengthAdjust="spacingAndGlyphs">Close</text>
<text x="440.9" y="373.8" font-family="Liberation Sans, sans-serif" font-size="10" fill="#222" textLength="42.2" lengthAdjust="spacingAndGlyphs">1275.92</text>
<text x="491" y="373.8" font-family="Liberation Sans, sans-serif" font-size="11.3" font-weight="bold" fill="#000" textLength="46.7" lengthAdjust="spacingAndGlyphs">Volume</text>
<text x="542" y="373.8" font-family="Liberation Sans, sans-serif" font-size="10" fill="#222" textLength="24.2" lengthAdjust="spacingAndGlyphs">2.9B</text>
<text x="573.4" y="373.8" font-family="Liberation Sans, sans-serif" font-size="11.3" font-weight="bold" fill="#000" textLength="24.2" lengthAdjust="spacingAndGlyphs">Chg</text>
<text x="601.6" y="373.8" font-family="Liberation Sans, sans-serif" font-size="10" fill="#222" textLength="88" lengthAdjust="spacingAndGlyphs">+14.80 (+1.17%)</text>
<path d="M692.6 373 L701.5 373 L697.05 368 Z" fill="#2e7d32"/>
<text x="600.6" y="359.2" font-family="Liberation Sans, sans-serif" font-size="11.5" fill="#666" textLength="100.9" lengthAdjust="spacingAndGlyphs">© StockCharts.com</text>
<text x="692.8" y="310.0" font-family="Liberation Sans, sans-serif" font-size="11" fill="#111">17</text>
<text x="692.8" y="286.8" font-family="Liberation Sans, sans-serif" font-size="11" fill="#111">18</text>
<text x="692.8" y="264.8" font-family="Liberation Sans, sans-serif" font-size="11" fill="#111">19</text>
<text x="692.8" y="244.0" font-family="Liberation Sans, sans-serif" font-size="11" fill="#111">20</text>
<text x="692.8" y="205.3" font-family="Liberation Sans, sans-serif" font-size="11" fill="#111">22</text>
<text x="692.8" y="187.3" font-family="Liberation Sans, sans-serif" font-size="11" fill="#111">23</text>
<text x="692.8" y="170.0" font-family="Liberation Sans, sans-serif" font-size="11" fill="#111">24</text>
<text x="692.8" y="153.4" font-family="Liberation Sans, sans-serif" font-size="11" fill="#111">25</text>
<text x="692.8" y="137.5" font-family="Liberation Sans, sans-serif" font-size="11" fill="#111">26</text>
<text x="692.8" y="122.2" font-family="Liberation Sans, sans-serif" font-size="11" fill="#111">27</text>
<text x="692.8" y="107.4" font-family="Liberation Sans, sans-serif" font-size="11" fill="#111">28</text>
<text x="692.8" y="79.4" font-family="Liberation Sans, sans-serif" font-size="11" fill="#111">30</text>
<text x="692.8" y="66.1" font-family="Liberation Sans, sans-serif" font-size="11" fill="#111">31</text>
<text x="692.8" y="53.2" font-family="Liberation Sans, sans-serif" font-size="11" fill="#111">32</text>
<text x="692.8" y="93.2" font-family="Liberation Sans, sans-serif" font-size="11" fill="#111">29</text>
<text x="692.8" y="224.2" font-family="Liberation Sans, sans-serif" font-size="11" fill="#111">21</text>
<text x="706" y="671.0" font-family="Liberation Sans, sans-serif" font-size="11" fill="#111">1075</text>
<text x="706" y="643.1" font-family="Liberation Sans, sans-serif" font-size="11" fill="#111">1100</text>
<text x="706" y="615.8" font-family="Liberation Sans, sans-serif" font-size="11" fill="#111">1125</text>
<text x="706" y="589.2" font-family="Liberation Sans, sans-serif" font-size="11" fill="#111">1150</text>
<text x="706" y="563.0" font-family="Liberation Sans, sans-serif" font-size="11" fill="#111">1175</text>
<text x="706" y="512.5" font-family="Liberation Sans, sans-serif" font-size="11" fill="#111">1225</text>
<text x="706" y="487.9" font-family="Liberation Sans, sans-serif" font-size="11" fill="#111">1250</text>
<text x="706" y="440.3" font-family="Liberation Sans, sans-serif" font-size="11" fill="#111">1300</text>
<text x="706" y="417.2" font-family="Liberation Sans, sans-serif" font-size="11" fill="#111">1325</text>
<text x="706" y="394.5" font-family="Liberation Sans, sans-serif" font-size="11" fill="#111">1350</text>
<text x="19.5" y="326.6" font-family="Liberation Sans, sans-serif" font-size="11.5" text-anchor="middle" fill="#111">9</text>
<text x="45.5" y="326.6" font-family="Liberation Sans, sans-serif" font-size="11.5" text-anchor="middle" fill="#111">16</text>
<text x="71.5" y="326.6" font-family="Liberation Sans, sans-serif" font-size="11.5" text-anchor="middle" fill="#111">23</text>
<text x="103.7" y="326.6" font-family="Liberation Sans, sans-serif" font-size="12" font-weight="bold" text-anchor="middle" fill="#111">Jun</text>
<text x="118.5" y="326.6" font-family="Liberation Sans, sans-serif" font-size="11.5" text-anchor="middle" fill="#111">6</text>
<text x="144.5" y="326.6" font-family="Liberation Sans, sans-serif" font-size="11.5" text-anchor="middle" fill="#111">13</text>
<text x="170.5" y="326.6" font-family="Liberation Sans, sans-serif" font-size="11.5" text-anchor="middle" fill="#111">20</text>
<text x="196.5" y="326.6" font-family="Liberation Sans, sans-serif" font-size="11.5" text-anchor="middle" fill="#111">27</text>
<text x="218.7" y="326.6" font-family="Liberation Sans, sans-serif" font-size="12" font-weight="bold" text-anchor="middle" fill="#111">Jul</text>
<text x="243.5" y="326.6" font-family="Liberation Sans, sans-serif" font-size="11.5" text-anchor="middle" fill="#111">11</text>
<text x="269.5" y="326.6" font-family="Liberation Sans, sans-serif" font-size="11.5" text-anchor="middle" fill="#111">18</text>
<text x="296.5" y="326.6" font-family="Liberation Sans, sans-serif" font-size="11.5" text-anchor="middle" fill="#111">25</text>
<text x="323.7" y="326.6" font-family="Liberation Sans, sans-serif" font-size="12" font-weight="bold" text-anchor="middle" fill="#111">Aug</text>
<text x="348.5" y="326.6" font-family="Liberation Sans, sans-serif" font-size="11.5" text-anchor="middle" fill="#111">8</text>
<text x="374.5" y="326.6" font-family="Liberation Sans, sans-serif" font-size="11.5" text-anchor="middle" fill="#111">15</text>
<text x="400.5" y="326.6" font-family="Liberation Sans, sans-serif" font-size="11.5" text-anchor="middle" fill="#111">22</text>
<text x="426.5" y="326.6" font-family="Liberation Sans, sans-serif" font-size="11.5" text-anchor="middle" fill="#111">29</text>
<text x="443.7" y="326.6" font-family="Liberation Sans, sans-serif" font-size="12" font-weight="bold" text-anchor="middle" fill="#111">Sep</text>
<text x="473.5" y="326.6" font-family="Liberation Sans, sans-serif" font-size="11.5" text-anchor="middle" fill="#111">12</text>
<text x="499.5" y="326.6" font-family="Liberation Sans, sans-serif" font-size="11.5" text-anchor="middle" fill="#111">19</text>
<text x="525.5" y="326.6" font-family="Liberation Sans, sans-serif" font-size="11.5" text-anchor="middle" fill="#111">26</text>
<text x="552.7" y="326.6" font-family="Liberation Sans, sans-serif" font-size="12" font-weight="bold" text-anchor="middle" fill="#111">Oct</text>
<text x="577.5" y="326.6" font-family="Liberation Sans, sans-serif" font-size="11.5" text-anchor="middle" fill="#111">11</text>
<text x="598.5" y="326.6" font-family="Liberation Sans, sans-serif" font-size="11.5" text-anchor="middle" fill="#111">17</text>
<text x="624.5" y="326.6" font-family="Liberation Sans, sans-serif" font-size="11.5" text-anchor="middle" fill="#111">24</text>
<text x="657.7" y="326.6" font-family="Liberation Sans, sans-serif" font-size="12" font-weight="bold" text-anchor="middle" fill="#111">Nov</text>
<text x="676.5" y="326.6" font-family="Liberation Sans, sans-serif" font-size="11.5" text-anchor="middle" fill="#111">7</text>
<text x="30.5" y="688.8" font-family="Liberation Sans, sans-serif" font-size="11.5" text-anchor="middle" fill="#111">23</text>
<text x="64.7" y="688.8" font-family="Liberation Sans, sans-serif" font-size="12" font-weight="bold" text-anchor="middle" fill="#111">Jun</text>
<text x="80.5" y="688.8" font-family="Liberation Sans, sans-serif" font-size="11.5" text-anchor="middle" fill="#111">6</text>
<text x="108.5" y="688.8" font-family="Liberation Sans, sans-serif" font-size="11.5" text-anchor="middle" fill="#111">13</text>
<text x="136.5" y="688.8" font-family="Liberation Sans, sans-serif" font-size="11.5" text-anchor="middle" fill="#111">20</text>
<text x="165.5" y="688.8" font-family="Liberation Sans, sans-serif" font-size="11.5" text-anchor="middle" fill="#111">27</text>
<text x="188.7" y="688.8" font-family="Liberation Sans, sans-serif" font-size="12" font-weight="bold" text-anchor="middle" fill="#111">Jul</text>
<text x="215.5" y="688.8" font-family="Liberation Sans, sans-serif" font-size="11.5" text-anchor="middle" fill="#111">11</text>
<text x="243.5" y="688.8" font-family="Liberation Sans, sans-serif" font-size="11.5" text-anchor="middle" fill="#111">18</text>
<text x="271.5" y="688.8" font-family="Liberation Sans, sans-serif" font-size="11.5" text-anchor="middle" fill="#111">25</text>
<text x="300.7" y="688.8" font-family="Liberation Sans, sans-serif" font-size="12" font-weight="bold" text-anchor="middle" fill="#111">Aug</text>
<text x="327.5" y="688.8" font-family="Liberation Sans, sans-serif" font-size="11.5" text-anchor="middle" fill="#111">8</text>
<text x="356.5" y="688.8" font-family="Liberation Sans, sans-serif" font-size="11.5" text-anchor="middle" fill="#111">15</text>
<text x="384.5" y="688.8" font-family="Liberation Sans, sans-serif" font-size="11.5" text-anchor="middle" fill="#111">22</text>
<text x="412.5" y="688.8" font-family="Liberation Sans, sans-serif" font-size="11.5" text-anchor="middle" fill="#111">29</text>
<text x="430.7" y="688.8" font-family="Liberation Sans, sans-serif" font-size="12" font-weight="bold" text-anchor="middle" fill="#111">Sep</text>
<text x="462.5" y="688.8" font-family="Liberation Sans, sans-serif" font-size="11.5" text-anchor="middle" fill="#111">12</text>
<text x="490.5" y="688.8" font-family="Liberation Sans, sans-serif" font-size="11.5" text-anchor="middle" fill="#111">19</text>
<text x="518.5" y="688.8" font-family="Liberation Sans, sans-serif" font-size="11.5" text-anchor="middle" fill="#111">26</text>
<text x="548.7" y="688.8" font-family="Liberation Sans, sans-serif" font-size="12" font-weight="bold" text-anchor="middle" fill="#111">Oct</text>
<text x="575.5" y="688.8" font-family="Liberation Sans, sans-serif" font-size="11.5" text-anchor="middle" fill="#111">10</text>
<text x="603.5" y="688.8" font-family="Liberation Sans, sans-serif" font-size="11.5" text-anchor="middle" fill="#111">17</text>
<text x="631.5" y="688.8" font-family="Liberation Sans, sans-serif" font-size="11.5" text-anchor="middle" fill="#111">24</text>
<text x="666.7" y="688.8" font-family="Liberation Sans, sans-serif" font-size="12" font-weight="bold" text-anchor="middle" fill="#111">Nov</text>
<text x="687.5" y="688.8" font-family="Liberation Sans, sans-serif" font-size="11.5" text-anchor="middle" fill="#111">7</text>
<rect x="8.5" y="38.0" width="125" height="11" fill="#fff"/>
<rect x="8.5" y="48.5" width="78" height="11.5" fill="#fff"/>
<rect x="8.5" y="59.5" width="82" height="11.5" fill="#fff"/>
<rect x="8.5" y="70.5" width="78" height="11.5" fill="#fff"/>
<g fill="#111"><rect x="13.0" y="39.5" width="1" height="8"/><rect x="11.5" y="41.0" width="4" height="4.5"/><rect x="18.0" y="39.5" width="1" height="8"/><rect x="17.0" y="41.0" width="3.2" height="5" fill="none" stroke="#111" stroke-width="1.2"/></g>
<text x="24.6" y="47.5" font-family="Liberation Sans, sans-serif" font-size="10.8" fill="#111" stroke="#111" stroke-width="0.1" textLength="108.4" lengthAdjust="spacing">$TNX (Daily) 20.65</text>
<rect x="11.2" y="53.5" width="9.7" height="2" fill="#1f1f80"/>
<text x="22.6" y="58.5" font-family="Liberation Sans, sans-serif" font-size="10.5" fill="#2a2a8a" textLength="62" lengthAdjust="spacing">MA(50) 20.54</text>
<rect x="11.2" y="64.5" width="9.7" height="2" fill="#e8202c"/>
<text x="22.6" y="69.5" font-family="Liberation Sans, sans-serif" font-size="10.5" fill="#e3303a" textLength="67.5" lengthAdjust="spacing">MA(200) 28.59</text>
<g fill="#555"><rect x="11.2" y="75.5" width="2" height="5"/><rect x="13.7" y="73.5" width="2" height="7"/><rect x="16.2" y="72.5" width="2" height="8"/><rect x="18.7" y="74.5" width="2" height="6"/></g>
<text x="22.6" y="80.5" font-family="Liberation Sans, sans-serif" font-size="10.5" fill="#444" textLength="63.8" lengthAdjust="spacing">Volume undef</text>
<rect x="10.5" y="379.5" width="149" height="11.6" fill="#fff"/>
<rect x="10.5" y="390.6" width="92" height="12.1" fill="#fff"/>
<rect x="10.5" y="402.2" width="97.5" height="12.1" fill="#fff"/>
<rect x="10.5" y="413.8" width="121" height="12.1" fill="#fff"/>
<g fill="#111"><rect x="15.0" y="381" width="1" height="8"/><rect x="13.5" y="382.5" width="4" height="4.5"/><rect x="20.0" y="381" width="1" height="8"/><rect x="19.0" y="382.5" width="3.2" height="5" fill="none" stroke="#111" stroke-width="1.2"/></g>
<text x="27.9" y="389" font-family="Liberation Sans, sans-serif" font-size="10.8" fill="#111" stroke="#111" stroke-width="0.1" textLength="131.9" lengthAdjust="spacing">$SPX (Daily) 1275.92</text>
<rect x="13.2" y="395.6" width="9.7" height="2" fill="#1f1f80"/>
<text x="24.6" y="400.6" font-family="Liberation Sans, sans-serif" font-size="10.5" fill="#2a2a8a" textLength="77" lengthAdjust="spacing">MA(50) 1198.85</text>
<rect x="13.2" y="407.20000000000005" width="9.7" height="2" fill="#e8202c"/>
<text x="24.6" y="412.20000000000005" font-family="Liberation Sans, sans-serif" font-size="10.5" fill="#e3303a" textLength="82.5" lengthAdjust="spacing">MA(200) 1272.97</text>
<g fill="#555"><rect x="13.2" y="418.80000000000007" width="2" height="5"/><rect x="15.7" y="416.80000000000007" width="2" height="7"/><rect x="18.2" y="415.80000000000007" width="2" height="8"/><rect x="20.7" y="417.80000000000007" width="2" height="6"/></g>
<text x="24.6" y="423.80000000000007" font-family="Liberation Sans, sans-serif" font-size="10.5" fill="#444" textLength="106.5" lengthAdjust="spacing">Volume 2,931,461,120</text>
<path d="M694.5 89.95 H722.5 V100.45 H694.5 L688.5 95.2 Z" fill="#fff" stroke="#d83040" stroke-width="1.2"/>
<text x="720.5" y="99.2" font-family="Liberation Sans, sans-serif" font-size="11" text-anchor="end" fill="#111">28.59</text>
<path d="M695.5 222.5 H722.0 V234.5 H695.5 L689.5 228.5 Z" fill="#fff" stroke="#3a3a8a" stroke-width="1.2"/>
<text x="720.0" y="232.5" font-family="Liberation Sans, sans-serif" font-size="11" text-anchor="end" fill="#111"></text>
<path d="M694.5 221.3 H721.5 V233.3 H694.5 L688.5 227.3 Z" fill="#fff" stroke="#222" stroke-width="1.2"/>
<text x="719.5" y="231.3" font-family="Liberation Sans, sans-serif" font-size="11" font-weight="bold" text-anchor="end" fill="#111">20.65</text>
<path d="M706.5 456.0 H750.5 V467.0 H706.5 L700.5 461.5 Z" fill="#fff" stroke="#e04040" stroke-width="1.2"/>
<text x="748.5" y="465.5" font-family="Liberation Sans, sans-serif" font-size="11" text-anchor="end" fill="#111"></text>
<path d="M706.5 452.05 H750.5 V463.55 H706.5 L700.5 457.8 Z" fill="#fff" stroke="#111" stroke-width="1.2"/>
<text x="748.5" y="461.8" font-family="Liberation Sans, sans-serif" font-size="12" font-weight="bold" text-anchor="end" fill="#111">1275.92</text>
<path d="M705.5 529.0 H750.5 V540.0 H705.5 L699.5 534.5 Z" fill="#fff" stroke="#3a3aa0" stroke-width="1.2"/>
<text x="748.5" y="538.5" font-family="Liberation Sans, sans-serif" font-size="11" text-anchor="end" fill="#111">1198.85</text>
<path d="M705.5 637.2 H751.0 V648.2 H705.5 L699.5 642.7 Z" fill="#fff" stroke="#888" stroke-width="1.2"/>
<text x="749.0" y="646.7" font-family="Liberation Sans, sans-serif" font-size="11" text-anchor="end" fill="#111">2931461</text>
<rect x="20.5" y="176.5" width="312" height="127" fill="#ffc800" stroke="#111" stroke-width="1.3"/>
<text x="33" y="204.2" font-family="Liberation Serif, serif" font-size="20" font-weight="bold" fill="#1a1000" textLength="278.8" lengthAdjust="spacingAndGlyphs">В последние дни динамика</text>
<text x="33" y="232.6" font-family="Liberation Serif, serif" font-size="20" font-weight="bold" fill="#1a1000" textLength="242.2" lengthAdjust="spacingAndGlyphs">10-летних US Treasuries</text>
<text x="33" y="260.8" font-family="Liberation Serif, serif" font-size="20" font-weight="bold" fill="#1a1000" textLength="209.2" lengthAdjust="spacingAndGlyphs">сильно расходится с</text>
<text x="33" y="289.2" font-family="Liberation Serif, serif" font-size="20" font-weight="bold" fill="#1a1000" textLength="197.1" lengthAdjust="spacingAndGlyphs">динамикой S&amp;P500</text>
<rect x="20.5" y="554.5" width="283" height="60.5" fill="#ffc800" stroke="#111" stroke-width="1.3"/>
<text x="33" y="578.8" font-family="Liberation Serif, serif" font-size="18" font-weight="bold" fill="#1a1000" textLength="257.5" lengthAdjust="spacingAndGlyphs">Закрытие выше 200-дневной</text>
<text x="33" y="603.6" font-family="Liberation Serif, serif" font-size="18" font-weight="bold" fill="#1a1000" textLength="177.2" lengthAdjust="spacingAndGlyphs">скользящей средней</text>
<line x1="303.5" y1="576.7" x2="684" y2="461.9" stroke="#000" stroke-width="1.4"/>
<path d="M692.6 459.3 L680.2 458.3 L683.6 469.4 Z" fill="#000"/>
<circle cx="667.7" cy="238" r="43" fill="none" stroke="#f0d048" stroke-width="1.2"/>
<circle cx="677.2" cy="492.8" r="43" fill="none" stroke="#f0d048" stroke-width="1.2"/>
<rect x="397" y="396" width="165" height="43" fill="#fff"/>
<g transform="translate(480 429) skewX(-6) translate(-480 -429)"><text x="413" y="429" font-family="Liberation Sans, sans-serif" font-size="25.5" font-weight="bold" font-style="italic" fill="#c2c2c2" stroke="#c2c2c2" stroke-width="1.6" stroke-linejoin="round" textLength="134" lengthAdjust="spacingAndGlyphs">Chessplayer</text></g>
<text x="0.6" y="597.2" font-family="Liberation Sans, sans-serif" font-size="11.5" font-weight="bold" fill="#222">3</text>
<text x="0.6" y="624.1" font-family="Liberation Sans, sans-serif" font-size="11.5" font-weight="bold" fill="#222">3</text>
<text x="0.6" y="651" font-family="Liberation Sans, sans-serif" font-size="11.5" font-weight="bold" fill="#222">3</text>
</svg></body></html>
